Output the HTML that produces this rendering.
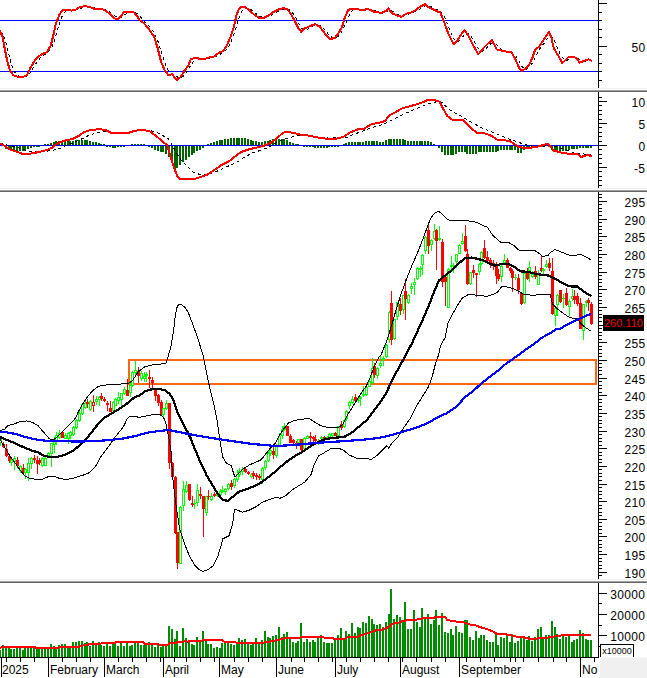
<!DOCTYPE html><html><head><meta charset="utf-8"><title>chart</title><style>
html,body{margin:0;padding:0;background:#fff;}body{width:647px;height:678px;overflow:hidden;font-family:"Liberation Sans",sans-serif;}
svg{display:block}text{font-family:"Liberation Sans",sans-serif;font-size:12px;fill:#000}
</style></head><body>
<svg width="647" height="678" viewBox="0 0 647 678">
<rect width="647" height="678" fill="#fff"/>
<rect x="0" y="88" width="647" height="1" fill="#f0f0f0"/>
<rect x="0" y="90" width="647" height="1" fill="#a0a0a0"/>
<rect x="0" y="91" width="647" height="1" fill="#646464"/>
<rect x="0" y="188" width="647" height="1" fill="#f0f0f0"/>
<rect x="0" y="190" width="647" height="1" fill="#a0a0a0"/>
<rect x="0" y="191" width="647" height="1" fill="#646464"/>
<rect x="0" y="579" width="647" height="1" fill="#f0f0f0"/>
<rect x="0" y="581" width="647" height="1" fill="#a0a0a0"/>
<rect x="0" y="582" width="647" height="1" fill="#646464"/>
<g shape-rendering="crispEdges" fill="#000">
<rect x="598" y="0" width="1" height="88"/>
<rect x="598" y="92" width="1" height="96"/>
<rect x="598" y="192" width="1" height="387"/>
<rect x="598" y="583" width="1" height="75"/>
<rect x="599" y="3" width="8" height="1"/>
<rect x="599" y="12" width="3" height="1"/>
<rect x="599" y="20" width="3" height="1"/>
<rect x="599" y="29" width="3" height="1"/>
<rect x="599" y="37" width="3" height="1"/>
<rect x="599" y="46" width="8" height="1"/>
<rect x="599" y="54" width="3" height="1"/>
<rect x="599" y="63" width="3" height="1"/>
<rect x="599" y="71" width="3" height="1"/>
<rect x="599" y="80" width="3" height="1"/>
<rect x="599" y="185" width="3" height="1"/>
<rect x="599" y="180" width="3" height="1"/>
<rect x="599" y="176" width="3" height="1"/>
<rect x="599" y="171" width="3" height="1"/>
<rect x="599" y="167" width="8" height="1"/>
<rect x="599" y="163" width="3" height="1"/>
<rect x="599" y="158" width="3" height="1"/>
<rect x="599" y="154" width="3" height="1"/>
<rect x="599" y="149" width="3" height="1"/>
<rect x="599" y="145" width="8" height="1"/>
<rect x="599" y="141" width="3" height="1"/>
<rect x="599" y="136" width="3" height="1"/>
<rect x="599" y="132" width="3" height="1"/>
<rect x="599" y="127" width="3" height="1"/>
<rect x="599" y="123" width="8" height="1"/>
<rect x="599" y="119" width="3" height="1"/>
<rect x="599" y="114" width="3" height="1"/>
<rect x="599" y="110" width="3" height="1"/>
<rect x="599" y="105" width="3" height="1"/>
<rect x="599" y="101" width="8" height="1"/>
<rect x="599" y="97" width="3" height="1"/>
<rect x="599" y="575" width="3" height="1"/>
<rect x="599" y="572" width="8" height="1"/>
<rect x="599" y="568" width="3" height="1"/>
<rect x="599" y="565" width="3" height="1"/>
<rect x="599" y="561" width="3" height="1"/>
<rect x="599" y="558" width="3" height="1"/>
<rect x="599" y="554" width="8" height="1"/>
<rect x="599" y="551" width="3" height="1"/>
<rect x="599" y="547" width="3" height="1"/>
<rect x="599" y="544" width="3" height="1"/>
<rect x="599" y="540" width="3" height="1"/>
<rect x="599" y="536" width="8" height="1"/>
<rect x="599" y="533" width="3" height="1"/>
<rect x="599" y="529" width="3" height="1"/>
<rect x="599" y="526" width="3" height="1"/>
<rect x="599" y="522" width="3" height="1"/>
<rect x="599" y="519" width="8" height="1"/>
<rect x="599" y="515" width="3" height="1"/>
<rect x="599" y="512" width="3" height="1"/>
<rect x="599" y="508" width="3" height="1"/>
<rect x="599" y="505" width="3" height="1"/>
<rect x="599" y="501" width="8" height="1"/>
<rect x="599" y="498" width="3" height="1"/>
<rect x="599" y="494" width="3" height="1"/>
<rect x="599" y="491" width="3" height="1"/>
<rect x="599" y="487" width="3" height="1"/>
<rect x="599" y="484" width="8" height="1"/>
<rect x="599" y="480" width="3" height="1"/>
<rect x="599" y="476" width="3" height="1"/>
<rect x="599" y="473" width="3" height="1"/>
<rect x="599" y="469" width="3" height="1"/>
<rect x="599" y="466" width="8" height="1"/>
<rect x="599" y="462" width="3" height="1"/>
<rect x="599" y="459" width="3" height="1"/>
<rect x="599" y="455" width="3" height="1"/>
<rect x="599" y="452" width="3" height="1"/>
<rect x="599" y="448" width="8" height="1"/>
<rect x="599" y="445" width="3" height="1"/>
<rect x="599" y="441" width="3" height="1"/>
<rect x="599" y="438" width="3" height="1"/>
<rect x="599" y="434" width="3" height="1"/>
<rect x="599" y="431" width="8" height="1"/>
<rect x="599" y="427" width="3" height="1"/>
<rect x="599" y="423" width="3" height="1"/>
<rect x="599" y="420" width="3" height="1"/>
<rect x="599" y="416" width="3" height="1"/>
<rect x="599" y="413" width="8" height="1"/>
<rect x="599" y="409" width="3" height="1"/>
<rect x="599" y="406" width="3" height="1"/>
<rect x="599" y="402" width="3" height="1"/>
<rect x="599" y="399" width="3" height="1"/>
<rect x="599" y="395" width="8" height="1"/>
<rect x="599" y="392" width="3" height="1"/>
<rect x="599" y="388" width="3" height="1"/>
<rect x="599" y="385" width="3" height="1"/>
<rect x="599" y="381" width="3" height="1"/>
<rect x="599" y="378" width="8" height="1"/>
<rect x="599" y="374" width="3" height="1"/>
<rect x="599" y="370" width="3" height="1"/>
<rect x="599" y="367" width="3" height="1"/>
<rect x="599" y="363" width="3" height="1"/>
<rect x="599" y="360" width="8" height="1"/>
<rect x="599" y="356" width="3" height="1"/>
<rect x="599" y="353" width="3" height="1"/>
<rect x="599" y="349" width="3" height="1"/>
<rect x="599" y="346" width="3" height="1"/>
<rect x="599" y="342" width="8" height="1"/>
<rect x="599" y="339" width="3" height="1"/>
<rect x="599" y="335" width="3" height="1"/>
<rect x="599" y="332" width="3" height="1"/>
<rect x="599" y="328" width="3" height="1"/>
<rect x="599" y="325" width="8" height="1"/>
<rect x="599" y="321" width="3" height="1"/>
<rect x="599" y="317" width="3" height="1"/>
<rect x="599" y="314" width="3" height="1"/>
<rect x="599" y="310" width="3" height="1"/>
<rect x="599" y="307" width="8" height="1"/>
<rect x="599" y="303" width="3" height="1"/>
<rect x="599" y="300" width="3" height="1"/>
<rect x="599" y="296" width="3" height="1"/>
<rect x="599" y="293" width="3" height="1"/>
<rect x="599" y="289" width="8" height="1"/>
<rect x="599" y="286" width="3" height="1"/>
<rect x="599" y="282" width="3" height="1"/>
<rect x="599" y="279" width="3" height="1"/>
<rect x="599" y="275" width="3" height="1"/>
<rect x="599" y="272" width="8" height="1"/>
<rect x="599" y="268" width="3" height="1"/>
<rect x="599" y="264" width="3" height="1"/>
<rect x="599" y="261" width="3" height="1"/>
<rect x="599" y="257" width="3" height="1"/>
<rect x="599" y="254" width="8" height="1"/>
<rect x="599" y="250" width="3" height="1"/>
<rect x="599" y="247" width="3" height="1"/>
<rect x="599" y="243" width="3" height="1"/>
<rect x="599" y="240" width="3" height="1"/>
<rect x="599" y="236" width="8" height="1"/>
<rect x="599" y="233" width="3" height="1"/>
<rect x="599" y="229" width="3" height="1"/>
<rect x="599" y="226" width="3" height="1"/>
<rect x="599" y="222" width="3" height="1"/>
<rect x="599" y="219" width="8" height="1"/>
<rect x="599" y="215" width="3" height="1"/>
<rect x="599" y="211" width="3" height="1"/>
<rect x="599" y="208" width="3" height="1"/>
<rect x="599" y="204" width="3" height="1"/>
<rect x="599" y="201" width="8" height="1"/>
<rect x="599" y="197" width="3" height="1"/>
<rect x="599" y="194" width="3" height="1"/>
<rect x="599" y="646" width="3" height="1"/>
<rect x="599" y="635" width="8" height="1"/>
<rect x="599" y="625" width="3" height="1"/>
<rect x="599" y="614" width="8" height="1"/>
<rect x="599" y="603" width="3" height="1"/>
<rect x="599" y="593" width="8" height="1"/>
<rect x="0" y="657" width="599" height="1"/>
<rect x="1" y="657" width="1" height="20"/>
<rect x="48" y="657" width="1" height="20"/>
<rect x="104" y="657" width="1" height="20"/>
<rect x="163" y="657" width="1" height="20"/>
<rect x="219" y="657" width="1" height="20"/>
<rect x="276" y="657" width="1" height="20"/>
<rect x="335" y="657" width="1" height="20"/>
<rect x="400" y="657" width="1" height="20"/>
<rect x="459" y="657" width="1" height="20"/>
<rect x="580" y="657" width="1" height="20"/>
<rect x="6" y="657" width="1" height="5"/>
<rect x="20" y="657" width="1" height="5"/>
<rect x="34" y="657" width="1" height="5"/>
<rect x="62" y="657" width="1" height="5"/>
<rect x="76" y="657" width="1" height="5"/>
<rect x="90" y="657" width="1" height="5"/>
<rect x="118" y="657" width="1" height="5"/>
<rect x="132" y="657" width="1" height="5"/>
<rect x="146" y="657" width="1" height="5"/>
<rect x="160" y="657" width="1" height="5"/>
<rect x="174" y="657" width="1" height="5"/>
<rect x="186" y="657" width="1" height="5"/>
<rect x="200" y="657" width="1" height="5"/>
<rect x="214" y="657" width="1" height="5"/>
<rect x="234" y="657" width="1" height="5"/>
<rect x="248" y="657" width="1" height="5"/>
<rect x="262" y="657" width="1" height="5"/>
<rect x="291" y="657" width="1" height="5"/>
<rect x="304" y="657" width="1" height="5"/>
<rect x="318" y="657" width="1" height="5"/>
<rect x="332" y="657" width="1" height="5"/>
<rect x="346" y="657" width="1" height="5"/>
<rect x="360" y="657" width="1" height="5"/>
<rect x="374" y="657" width="1" height="5"/>
<rect x="388" y="657" width="1" height="5"/>
<rect x="402" y="657" width="1" height="5"/>
<rect x="416" y="657" width="1" height="5"/>
<rect x="431" y="657" width="1" height="5"/>
<rect x="445" y="657" width="1" height="5"/>
<rect x="466" y="657" width="1" height="5"/>
<rect x="480" y="657" width="1" height="5"/>
<rect x="494" y="657" width="1" height="5"/>
<rect x="510" y="657" width="1" height="5"/>
<rect x="515" y="657" width="1" height="5"/>
<rect x="523" y="657" width="1" height="5"/>
<rect x="538" y="657" width="1" height="5"/>
<rect x="553" y="657" width="1" height="5"/>
<rect x="566" y="657" width="1" height="5"/>
<rect x="594" y="657" width="1" height="5"/>
</g>
<text x="645.4" y="52" text-anchor="end" letter-spacing="0.33">50</text>
<text x="645.4" y="107" text-anchor="end" letter-spacing="0.33">10</text>
<text x="645.4" y="129" text-anchor="end" letter-spacing="0.33">5</text>
<text x="645.4" y="151" text-anchor="end" letter-spacing="0.33">0</text>
<text x="645.4" y="173" text-anchor="end" letter-spacing="0.33">-5</text>
<text x="645.4" y="578" text-anchor="end" letter-spacing="0.33">190</text>
<text x="645.4" y="560" text-anchor="end" letter-spacing="0.33">195</text>
<text x="645.4" y="542" text-anchor="end" letter-spacing="0.33">200</text>
<text x="645.4" y="525" text-anchor="end" letter-spacing="0.33">205</text>
<text x="645.4" y="507" text-anchor="end" letter-spacing="0.33">210</text>
<text x="645.4" y="490" text-anchor="end" letter-spacing="0.33">215</text>
<text x="645.4" y="472" text-anchor="end" letter-spacing="0.33">220</text>
<text x="645.4" y="454" text-anchor="end" letter-spacing="0.33">225</text>
<text x="645.4" y="437" text-anchor="end" letter-spacing="0.33">230</text>
<text x="645.4" y="419" text-anchor="end" letter-spacing="0.33">235</text>
<text x="645.4" y="401" text-anchor="end" letter-spacing="0.33">240</text>
<text x="645.4" y="384" text-anchor="end" letter-spacing="0.33">245</text>
<text x="645.4" y="366" text-anchor="end" letter-spacing="0.33">250</text>
<text x="645.4" y="348" text-anchor="end" letter-spacing="0.33">255</text>
<text x="645.4" y="313" text-anchor="end" letter-spacing="0.33">265</text>
<text x="645.4" y="295" text-anchor="end" letter-spacing="0.33">270</text>
<text x="645.4" y="278" text-anchor="end" letter-spacing="0.33">275</text>
<text x="645.4" y="260" text-anchor="end" letter-spacing="0.33">280</text>
<text x="645.4" y="242" text-anchor="end" letter-spacing="0.33">285</text>
<text x="645.4" y="225" text-anchor="end" letter-spacing="0.33">290</text>
<text x="645.4" y="207" text-anchor="end" letter-spacing="0.33">295</text>
<text x="645.4" y="641" text-anchor="end" letter-spacing="0.33">10000</text>
<text x="645.4" y="620" text-anchor="end" letter-spacing="0.33">20000</text>
<text x="645.4" y="599" text-anchor="end" letter-spacing="0.33">30000</text>
<text x="2" y="674">2025</text>
<text x="50" y="674">February</text>
<text x="106" y="674">March</text>
<text x="165" y="674">April</text>
<text x="221" y="674">May</text>
<text x="278" y="674">June</text>
<text x="337" y="674">July</text>
<text x="402" y="674">August</text>
<text x="461" y="674" letter-spacing="0.17">September</text>
<text x="582" y="674">No</text>
<rect x="600.5" y="644.5" width="33" height="16" fill="#fff" stroke="#000" stroke-width="1"/>
<text x="602.2" y="653.6" style="font-size:9px">x10000</text>
<rect x="600" y="657" width="47" height="1" fill="#fafafa"/>
<rect x="600" y="658" width="47" height="20" fill="#f0f0f0"/>
<rect x="603" y="315" width="41" height="16" fill="#000"/>
<text x="604.0" y="327" style="font-size:11px;fill:#f40000">260.110</text>
<g shape-rendering="crispEdges">
<rect x="0" y="20" width="598" height="1" fill="#0000ff"/>
<rect x="0" y="71" width="598" height="1" fill="#0000ff"/>
</g>
<polyline shape-rendering="crispEdges" points="0.6,31.4 3.4,34.9 6.2,43.3 9.0,55.0 11.8,65.4 14.6,72.1 17.5,75.2 20.3,76.4 23.1,76.8 25.9,76.4 28.7,74.6 31.5,70.9 34.3,66.2 37.2,61.6 40.0,58.2 42.8,55.7 45.6,54.0 48.4,52.0 51.2,48.6 54.1,41.7 56.9,32.3 59.7,22.5 62.5,15.3 65.3,11.6 68.1,10.2 70.9,10.2 73.8,10.3 76.6,9.9 79.4,8.9 82.2,7.7 85.0,6.8 87.8,6.5 90.7,6.7 93.5,7.5 96.3,8.2 99.1,8.6 101.9,8.8 104.7,9.3 107.5,10.5 110.4,12.3 113.2,14.5 116.0,16.6 118.8,17.9 121.6,17.4 124.4,15.2 127.3,13.0 130.1,11.7 132.9,11.7 135.7,12.6 138.5,14.9 141.3,18.0 144.1,21.1 147.0,23.9 149.8,27.0 152.6,30.6 155.4,35.3 158.2,41.9 161.0,50.9 163.9,60.0 166.7,67.6 169.5,72.1 172.3,74.1 175.1,75.8 177.9,77.2 180.7,78.1 183.6,76.1 186.4,72.4 189.2,67.9 192.0,63.4 194.8,60.1 197.6,58.5 200.4,58.4 203.3,58.6 206.1,58.6 208.9,58.2 211.7,57.6 214.5,56.9 217.3,55.8 220.2,54.2 223.0,52.5 225.8,50.1 228.6,46.5 231.4,40.8 234.2,33.6 237.0,24.3 239.9,15.6 242.7,9.5 245.5,7.6 248.3,8.1 251.1,9.7 253.9,11.9 256.8,14.2 259.6,16.2 262.4,17.3 265.2,17.5 268.0,16.8 270.8,15.5 273.6,13.8 276.5,12.1 279.3,10.5 282.1,9.4 284.9,8.8 287.7,9.1 290.5,10.6 293.4,13.9 296.2,18.5 299.0,23.8 301.8,28.2 304.6,29.8 307.4,29.2 310.2,27.3 313.1,26.0 315.9,25.1 318.7,25.2 321.5,26.5 324.3,29.3 327.1,32.7 330.0,35.9 332.8,37.8 335.6,38.1 338.4,36.2 341.2,32.9 344.0,27.3 346.8,20.6 349.7,14.2 352.5,10.4 355.3,8.9 358.1,8.8 360.9,9.3 363.7,9.7 366.6,9.8 369.4,9.6 372.2,9.9 375.0,10.8 377.8,11.8 380.6,12.4 383.4,12.4 386.3,11.8 389.1,10.5 391.9,10.9 394.7,12.2 397.5,14.4 400.3,15.5 403.2,15.9 406.0,15.3 408.8,14.2 411.6,13.0 414.4,12.0 417.2,10.7 420.0,8.8 422.9,7.0 425.7,5.6 428.5,5.8 431.3,6.9 434.1,8.5 436.9,9.8 439.7,10.9 442.6,13.7 445.4,18.6 448.2,25.7 451.0,32.6 453.8,38.7 456.6,41.4 459.5,40.8 462.3,37.2 465.1,33.8 467.9,33.1 470.7,35.5 473.5,40.5 476.3,45.8 479.2,50.1 482.0,51.4 484.8,50.0 487.6,46.8 490.4,44.0 493.2,42.7 496.1,44.1 498.9,46.9 501.7,49.5 504.5,50.6 507.3,51.2 510.1,51.7 512.9,52.9 515.8,55.7 518.6,60.6 521.4,65.9 524.2,69.0 527.0,69.1 529.8,66.7 532.7,62.6 535.5,56.6 538.3,51.2 541.1,46.8 543.9,43.6 546.7,39.5 549.5,36.1 552.4,37.0 555.2,42.1 558.0,49.3 560.8,55.4 563.6,59.1 566.4,60.4 569.3,59.3 572.1,57.7 574.9,57.2 577.7,58.1 580.5,59.8 583.3,61.0 586.1,61.2 589.0,60.3 591.8,60.1" fill="none" stroke="#000" stroke-width="1" stroke-dasharray="3,3"/>
<polyline shape-rendering="crispEdges" points="0.0,30.9 2.5,37.1 4.9,49.5 7.4,61.8 9.9,70.5 13.6,75.4 17.3,76.7 23.5,76.9 27.2,74.7 30.9,66.8 35.9,58.9 39.6,55.6 43.3,53.7 47.0,51.9 50.7,45.7 53.2,35.9 55.6,24.7 59.3,14.8 62.3,10.4 66.8,9.9 71.7,10.6 75.4,9.9 79.1,7.4 84.1,6.2 89.0,6.7 94.0,8.7 101.4,8.7 106.3,11.1 111.3,15.3 115.0,18.5 118.7,18.5 121.2,16.1 123.6,11.9 128.6,11.6 133.5,11.9 137.2,16.1 139.7,20.3 143.4,22.7 148.4,28.4 150.0,30.9 153.7,35.9 157.4,47.0 161.1,61.8 164.8,70.5 168.5,75.4 172.3,74.2 174.7,77.9 177.2,79.9 180.9,76.7 184.6,70.5 188.3,65.5 190.8,59.3 194.5,58.1 199.5,58.6 204.4,58.9 209.3,57.4 214.3,56.4 219.2,52.7 222.9,51.2 226.7,45.7 230.4,37.1 234.1,26.0 236.5,14.8 239.0,8.7 241.5,6.9 245.2,7.4 248.9,9.9 253.9,14.3 258.8,17.8 263.7,17.8 268.7,15.3 273.6,11.9 278.6,9.4 283.5,8.2 287.2,9.4 290.9,13.6 294.7,21.0 298.4,28.4 301.3,32.1 304.9,28.4 309.9,26.0 315.3,24.2 319.8,26.7 324.7,33.4 329.7,38.8 334.6,38.3 338.3,33.4 342.0,27.2 344.5,18.5 348.2,9.9 351.9,8.7 356.9,8.7 361.8,10.4 368.0,8.9 374.2,11.9 381.6,12.9 386.5,10.4 388.5,8.2 391.5,12.9 396.4,15.3 401.4,16.8 406.3,13.6 411.3,12.4 416.2,9.9 419.9,6.7 424.9,4.2 428.6,7.4 433.5,9.4 438.5,11.9 440.0,11.9 443.7,21.0 448.7,34.6 453.6,44.0 457.3,40.8 461.0,34.6 464.7,30.4 468.4,35.9 473.4,45.7 478.3,54.4 483.3,48.2 488.2,43.3 491.9,40.3 496.9,49.5 504.3,51.2 511.7,52.4 515.4,59.3 519.1,68.0 521.6,71.0 525.3,68.7 529.0,65.5 532.7,56.9 535.2,49.5 538.9,47.0 543.9,39.6 548.8,32.1 551.3,37.1 553.7,48.2 557.5,54.4 562.4,63.1 564.9,60.6 568.6,56.9 574.8,57.4 577.2,58.9 579.7,62.6 584.7,60.6 588.4,59.3 591.3,60.6" fill="none" stroke="#ff0000" stroke-width="2" stroke-linejoin="round" stroke-linecap="round"/>
<g shape-rendering="crispEdges">
<rect x="0" y="145" width="598" height="1" fill="#0000ff"/>
<rect x="-1" y="144" width="2" height="1" fill="#006400"/>
<rect x="5" y="146" width="2" height="3" fill="#006400"/>
<rect x="8" y="146" width="2" height="4" fill="#006400"/>
<rect x="10" y="146" width="2" height="5" fill="#006400"/>
<rect x="13" y="146" width="2" height="5" fill="#006400"/>
<rect x="16" y="146" width="2" height="5" fill="#006400"/>
<rect x="19" y="146" width="2" height="5" fill="#006400"/>
<rect x="22" y="146" width="2" height="5" fill="#006400"/>
<rect x="24" y="146" width="2" height="5" fill="#006400"/>
<rect x="27" y="146" width="2" height="3" fill="#006400"/>
<rect x="30" y="146" width="2" height="2" fill="#006400"/>
<rect x="33" y="146" width="2" height="1" fill="#006400"/>
<rect x="36" y="146" width="2" height="1" fill="#006400"/>
<rect x="38" y="146" width="2" height="1" fill="#006400"/>
<rect x="44" y="144" width="2" height="1" fill="#006400"/>
<rect x="47" y="144" width="2" height="1" fill="#006400"/>
<rect x="50" y="143" width="2" height="2" fill="#006400"/>
<rect x="53" y="142" width="2" height="3" fill="#006400"/>
<rect x="55" y="141" width="2" height="4" fill="#006400"/>
<rect x="58" y="141" width="2" height="4" fill="#006400"/>
<rect x="61" y="141" width="2" height="4" fill="#006400"/>
<rect x="64" y="141" width="2" height="4" fill="#006400"/>
<rect x="67" y="141" width="2" height="4" fill="#006400"/>
<rect x="69" y="141" width="2" height="4" fill="#006400"/>
<rect x="72" y="141" width="2" height="4" fill="#006400"/>
<rect x="75" y="140" width="2" height="5" fill="#006400"/>
<rect x="78" y="140" width="2" height="5" fill="#006400"/>
<rect x="81" y="140" width="2" height="5" fill="#006400"/>
<rect x="84" y="140" width="2" height="5" fill="#006400"/>
<rect x="86" y="140" width="2" height="5" fill="#006400"/>
<rect x="89" y="141" width="2" height="4" fill="#006400"/>
<rect x="92" y="142" width="2" height="3" fill="#006400"/>
<rect x="95" y="142" width="2" height="3" fill="#006400"/>
<rect x="98" y="143" width="2" height="2" fill="#006400"/>
<rect x="100" y="144" width="2" height="1" fill="#006400"/>
<rect x="103" y="144" width="2" height="1" fill="#006400"/>
<rect x="106" y="146" width="2" height="1" fill="#006400"/>
<rect x="109" y="146" width="2" height="1" fill="#006400"/>
<rect x="112" y="146" width="2" height="2" fill="#006400"/>
<rect x="114" y="146" width="2" height="2" fill="#006400"/>
<rect x="117" y="146" width="2" height="1" fill="#006400"/>
<rect x="120" y="146" width="2" height="1" fill="#006400"/>
<rect x="123" y="146" width="2" height="1" fill="#006400"/>
<rect x="131" y="144" width="2" height="1" fill="#006400"/>
<rect x="134" y="144" width="2" height="1" fill="#006400"/>
<rect x="137" y="144" width="2" height="1" fill="#006400"/>
<rect x="140" y="144" width="2" height="1" fill="#006400"/>
<rect x="143" y="144" width="2" height="1" fill="#006400"/>
<rect x="148" y="146" width="2" height="1" fill="#006400"/>
<rect x="151" y="146" width="2" height="2" fill="#006400"/>
<rect x="154" y="146" width="2" height="4" fill="#006400"/>
<rect x="157" y="146" width="2" height="5" fill="#006400"/>
<rect x="160" y="146" width="2" height="6" fill="#006400"/>
<rect x="162" y="146" width="2" height="6" fill="#006400"/>
<rect x="165" y="146" width="2" height="8" fill="#006400"/>
<rect x="168" y="146" width="2" height="11" fill="#006400"/>
<rect x="171" y="146" width="2" height="17" fill="#006400"/>
<rect x="174" y="146" width="2" height="23" fill="#006400"/>
<rect x="176" y="146" width="2" height="22" fill="#006400"/>
<rect x="179" y="146" width="2" height="19" fill="#006400"/>
<rect x="182" y="146" width="2" height="16" fill="#006400"/>
<rect x="185" y="146" width="2" height="14" fill="#006400"/>
<rect x="188" y="146" width="2" height="11" fill="#006400"/>
<rect x="191" y="146" width="2" height="9" fill="#006400"/>
<rect x="193" y="146" width="2" height="7" fill="#006400"/>
<rect x="196" y="146" width="2" height="5" fill="#006400"/>
<rect x="199" y="146" width="2" height="4" fill="#006400"/>
<rect x="202" y="146" width="2" height="2" fill="#006400"/>
<rect x="207" y="144" width="2" height="1" fill="#006400"/>
<rect x="210" y="143" width="2" height="2" fill="#006400"/>
<rect x="213" y="142" width="2" height="3" fill="#006400"/>
<rect x="216" y="141" width="2" height="4" fill="#006400"/>
<rect x="219" y="140" width="2" height="5" fill="#006400"/>
<rect x="221" y="140" width="2" height="5" fill="#006400"/>
<rect x="224" y="139" width="2" height="6" fill="#006400"/>
<rect x="227" y="139" width="2" height="6" fill="#006400"/>
<rect x="230" y="138" width="2" height="7" fill="#006400"/>
<rect x="233" y="138" width="2" height="7" fill="#006400"/>
<rect x="236" y="138" width="2" height="7" fill="#006400"/>
<rect x="238" y="138" width="2" height="7" fill="#006400"/>
<rect x="241" y="138" width="2" height="7" fill="#006400"/>
<rect x="244" y="138" width="2" height="7" fill="#006400"/>
<rect x="247" y="139" width="2" height="6" fill="#006400"/>
<rect x="250" y="140" width="2" height="5" fill="#006400"/>
<rect x="252" y="141" width="2" height="4" fill="#006400"/>
<rect x="255" y="141" width="2" height="4" fill="#006400"/>
<rect x="258" y="142" width="2" height="3" fill="#006400"/>
<rect x="261" y="142" width="2" height="3" fill="#006400"/>
<rect x="264" y="141" width="2" height="4" fill="#006400"/>
<rect x="267" y="141" width="2" height="4" fill="#006400"/>
<rect x="269" y="140" width="2" height="5" fill="#006400"/>
<rect x="272" y="139" width="2" height="6" fill="#006400"/>
<rect x="275" y="139" width="2" height="6" fill="#006400"/>
<rect x="278" y="139" width="2" height="6" fill="#006400"/>
<rect x="281" y="139" width="2" height="6" fill="#006400"/>
<rect x="283" y="139" width="2" height="6" fill="#006400"/>
<rect x="286" y="140" width="2" height="5" fill="#006400"/>
<rect x="289" y="142" width="2" height="3" fill="#006400"/>
<rect x="292" y="143" width="2" height="2" fill="#006400"/>
<rect x="295" y="144" width="2" height="1" fill="#006400"/>
<rect x="297" y="144" width="2" height="1" fill="#006400"/>
<rect x="303" y="146" width="2" height="1" fill="#006400"/>
<rect x="306" y="146" width="2" height="1" fill="#006400"/>
<rect x="309" y="146" width="2" height="1" fill="#006400"/>
<rect x="312" y="146" width="2" height="1" fill="#006400"/>
<rect x="314" y="146" width="2" height="2" fill="#006400"/>
<rect x="317" y="146" width="2" height="2" fill="#006400"/>
<rect x="320" y="146" width="2" height="2" fill="#006400"/>
<rect x="323" y="146" width="2" height="2" fill="#006400"/>
<rect x="326" y="146" width="2" height="2" fill="#006400"/>
<rect x="328" y="146" width="2" height="1" fill="#006400"/>
<rect x="331" y="146" width="2" height="1" fill="#006400"/>
<rect x="334" y="146" width="2" height="1" fill="#006400"/>
<rect x="337" y="146" width="2" height="1" fill="#006400"/>
<rect x="343" y="144" width="2" height="1" fill="#006400"/>
<rect x="345" y="143" width="2" height="2" fill="#006400"/>
<rect x="348" y="142" width="2" height="3" fill="#006400"/>
<rect x="351" y="142" width="2" height="3" fill="#006400"/>
<rect x="354" y="142" width="2" height="3" fill="#006400"/>
<rect x="357" y="142" width="2" height="3" fill="#006400"/>
<rect x="359" y="142" width="2" height="3" fill="#006400"/>
<rect x="362" y="142" width="2" height="3" fill="#006400"/>
<rect x="365" y="141" width="2" height="4" fill="#006400"/>
<rect x="368" y="141" width="2" height="4" fill="#006400"/>
<rect x="371" y="141" width="2" height="4" fill="#006400"/>
<rect x="373" y="141" width="2" height="4" fill="#006400"/>
<rect x="376" y="141" width="2" height="4" fill="#006400"/>
<rect x="379" y="142" width="2" height="3" fill="#006400"/>
<rect x="382" y="142" width="2" height="3" fill="#006400"/>
<rect x="385" y="140" width="2" height="5" fill="#006400"/>
<rect x="388" y="139" width="2" height="6" fill="#006400"/>
<rect x="390" y="139" width="2" height="6" fill="#006400"/>
<rect x="393" y="139" width="2" height="6" fill="#006400"/>
<rect x="396" y="139" width="2" height="6" fill="#006400"/>
<rect x="399" y="139" width="2" height="6" fill="#006400"/>
<rect x="402" y="139" width="2" height="6" fill="#006400"/>
<rect x="404" y="140" width="2" height="5" fill="#006400"/>
<rect x="407" y="141" width="2" height="4" fill="#006400"/>
<rect x="410" y="141" width="2" height="4" fill="#006400"/>
<rect x="413" y="141" width="2" height="4" fill="#006400"/>
<rect x="416" y="141" width="2" height="4" fill="#006400"/>
<rect x="419" y="141" width="2" height="4" fill="#006400"/>
<rect x="421" y="141" width="2" height="4" fill="#006400"/>
<rect x="424" y="141" width="2" height="4" fill="#006400"/>
<rect x="427" y="141" width="2" height="4" fill="#006400"/>
<rect x="430" y="142" width="2" height="3" fill="#006400"/>
<rect x="433" y="144" width="2" height="1" fill="#006400"/>
<rect x="438" y="146" width="2" height="2" fill="#006400"/>
<rect x="441" y="146" width="2" height="6" fill="#006400"/>
<rect x="444" y="146" width="2" height="9" fill="#006400"/>
<rect x="447" y="146" width="2" height="9" fill="#006400"/>
<rect x="450" y="146" width="2" height="9" fill="#006400"/>
<rect x="452" y="146" width="2" height="9" fill="#006400"/>
<rect x="455" y="146" width="2" height="8" fill="#006400"/>
<rect x="458" y="146" width="2" height="6" fill="#006400"/>
<rect x="461" y="146" width="2" height="6" fill="#006400"/>
<rect x="464" y="146" width="2" height="6" fill="#006400"/>
<rect x="466" y="146" width="2" height="8" fill="#006400"/>
<rect x="469" y="146" width="2" height="8" fill="#006400"/>
<rect x="472" y="146" width="2" height="8" fill="#006400"/>
<rect x="475" y="146" width="2" height="8" fill="#006400"/>
<rect x="478" y="146" width="2" height="6" fill="#006400"/>
<rect x="480" y="146" width="2" height="6" fill="#006400"/>
<rect x="483" y="146" width="2" height="6" fill="#006400"/>
<rect x="486" y="146" width="2" height="6" fill="#006400"/>
<rect x="489" y="146" width="2" height="6" fill="#006400"/>
<rect x="492" y="146" width="2" height="6" fill="#006400"/>
<rect x="495" y="146" width="2" height="6" fill="#006400"/>
<rect x="497" y="146" width="2" height="5" fill="#006400"/>
<rect x="500" y="146" width="2" height="4" fill="#006400"/>
<rect x="503" y="146" width="2" height="4" fill="#006400"/>
<rect x="506" y="146" width="2" height="4" fill="#006400"/>
<rect x="509" y="146" width="2" height="4" fill="#006400"/>
<rect x="511" y="146" width="2" height="4" fill="#006400"/>
<rect x="514" y="146" width="2" height="4" fill="#006400"/>
<rect x="517" y="146" width="2" height="7" fill="#006400"/>
<rect x="520" y="146" width="2" height="7" fill="#006400"/>
<rect x="523" y="146" width="2" height="4" fill="#006400"/>
<rect x="526" y="146" width="2" height="3" fill="#006400"/>
<rect x="528" y="146" width="2" height="2" fill="#006400"/>
<rect x="531" y="146" width="2" height="1" fill="#006400"/>
<rect x="534" y="146" width="2" height="1" fill="#006400"/>
<rect x="537" y="146" width="2" height="1" fill="#006400"/>
<rect x="540" y="146" width="2" height="1" fill="#006400"/>
<rect x="542" y="146" width="2" height="1" fill="#006400"/>
<rect x="545" y="144" width="2" height="1" fill="#006400"/>
<rect x="548" y="146" width="2" height="1" fill="#006400"/>
<rect x="551" y="146" width="2" height="4" fill="#006400"/>
<rect x="554" y="146" width="2" height="4" fill="#006400"/>
<rect x="556" y="146" width="2" height="4" fill="#006400"/>
<rect x="559" y="146" width="2" height="5" fill="#006400"/>
<rect x="562" y="146" width="2" height="5" fill="#006400"/>
<rect x="565" y="146" width="2" height="5" fill="#006400"/>
<rect x="568" y="146" width="2" height="4" fill="#006400"/>
<rect x="571" y="146" width="2" height="3" fill="#006400"/>
<rect x="573" y="146" width="2" height="3" fill="#006400"/>
<rect x="576" y="146" width="2" height="3" fill="#006400"/>
<rect x="579" y="146" width="2" height="2" fill="#006400"/>
<rect x="582" y="146" width="2" height="2" fill="#006400"/>
<rect x="585" y="146" width="2" height="2" fill="#006400"/>
<rect x="587" y="146" width="2" height="2" fill="#006400"/>
<rect x="590" y="146" width="2" height="2" fill="#006400"/>
</g>
<polyline shape-rendering="crispEdges" points="0.0,143.4 7.4,145.0 14.8,146.6 22.3,149.2 29.7,151.2 37.1,152.2 44.5,151.6 51.9,150.5 59.3,148.6 66.8,145.4 74.2,142.5 81.6,139.0 89.0,135.3 96.4,132.8 103.9,131.6 111.3,132.1 118.7,132.3 126.1,132.3 133.5,131.6 140.9,130.8 148.4,130.3 150.0,130.3 157.4,132.8 163.6,136.0 168.5,139.0 172.3,145.2 176.0,152.6 180.9,160.0 187.1,166.2 193.3,172.4 199.5,174.3 206.9,174.8 214.3,172.4 221.7,169.2 229.1,165.7 236.5,162.5 244.0,157.5 251.4,153.3 258.8,150.9 266.2,148.4 272.4,145.2 278.6,141.5 284.8,139.0 290.9,137.3 298.4,135.8 305.8,135.8 309.9,136.5 319.8,137.3 329.7,138.2 339.6,137.7 347.0,137.3 354.4,134.0 361.8,131.6 369.2,128.6 376.7,126.1 384.1,124.1 391.5,120.4 398.9,116.7 406.3,113.0 413.7,109.8 421.2,106.8 428.6,103.6 436.0,101.9 442.2,102.4 447.4,108.1 454.8,113.0 462.3,116.7 469.7,121.2 477.1,125.4 484.5,129.1 491.9,132.1 499.3,135.3 506.8,138.2 514.2,140.7 521.6,143.4 525.3,144.7 535.0,146.5 545.0,146.0 551.3,145.2 558.7,147.6 566.1,150.1 573.5,152.6 581.0,153.8 588.4,154.3 591.3,155.1" fill="none" stroke="#000" stroke-width="1" stroke-dasharray="3,3"/>
<polyline shape-rendering="crispEdges" points="0.0,143.6 4.6,145.9 10.8,149.8 17.0,151.8 21.6,153.6 30.9,153.6 38.6,152.1 46.4,150.2 52.6,147.5 56.0,144.4 60.7,142.0 66.0,140.3 72.6,139.0 78.8,135.9 84.2,132.0 89.6,130.3 95.8,129.5 100.1,129.1 106.3,130.3 111.3,132.8 118.7,133.3 128.6,132.8 134.8,130.8 140.9,129.8 147.1,130.6 150.0,131.6 156.2,136.0 162.4,141.5 167.3,145.2 169.8,153.8 173.5,166.2 177.2,176.1 179.7,179.0 187.1,179.3 194.5,179.0 199.5,177.3 206.9,174.8 214.3,169.9 221.7,164.9 229.1,161.2 235.3,156.3 241.5,151.8 248.9,149.4 256.3,147.6 263.7,145.9 271.2,142.7 276.1,139.0 281.1,134.5 284.8,132.1 289.7,132.3 295.9,133.5 300.0,134.5 307.4,135.3 314.8,137.0 322.3,138.2 329.7,139.0 337.1,138.5 343.3,137.0 349.5,132.8 356.9,129.6 364.3,128.6 371.7,124.1 379.1,122.9 385.3,120.9 389.0,115.5 395.2,112.3 402.6,108.1 410.0,106.3 416.2,104.4 422.4,102.4 427.3,100.2 434.8,99.9 439.7,101.9 443.4,109.3 447.4,116.2 452.4,119.7 458.5,119.7 463.5,120.4 467.2,124.1 472.1,129.1 477.1,132.8 484.5,133.3 491.9,136.0 496.9,139.5 504.3,140.2 510.5,141.5 515.4,144.7 519.1,146.9 525.3,148.1 531.5,147.6 538.9,146.4 543.9,144.7 548.3,143.9 551.3,147.6 553.7,150.6 558.7,151.8 563.6,153.3 571.1,153.8 577.2,153.8 581.0,157.0 584.7,155.8 588.4,155.1 591.3,156.3" fill="none" stroke="#ff0000" stroke-width="2" stroke-linejoin="round" stroke-linecap="round"/>
<rect x="129" y="360" width="467" height="24" fill="none" stroke="#ff6610" stroke-width="2"/>
<g shape-rendering="crispEdges">
<rect x="0" y="439" width="1" height="7" fill="#00ff00"/>
<rect x="-1" y="439" width="3" height="4" fill="#00ff00"/>
<rect x="0" y="440" width="1" height="2" fill="#fff"/>
<rect x="3" y="442" width="1" height="6" fill="#ff0000"/>
<rect x="2" y="444" width="3" height="3" fill="#ff0000"/>
<rect x="6" y="444" width="1" height="13" fill="#ff0000"/>
<rect x="5" y="449" width="3" height="7" fill="#ff0000"/>
<rect x="9" y="456" width="1" height="7" fill="#ff0000"/>
<rect x="8" y="456" width="3" height="5" fill="#ff0000"/>
<rect x="11" y="458" width="1" height="8" fill="#00ff00"/>
<rect x="10" y="460" width="3" height="3" fill="#00ff00"/>
<rect x="11" y="461" width="1" height="1" fill="#fff"/>
<rect x="14" y="456" width="1" height="14" fill="#00ff00"/>
<rect x="13" y="458" width="3" height="4" fill="#00ff00"/>
<rect x="14" y="459" width="1" height="2" fill="#fff"/>
<rect x="17" y="457" width="1" height="11" fill="#ff0000"/>
<rect x="16" y="460" width="3" height="6" fill="#ff0000"/>
<rect x="20" y="465" width="1" height="8" fill="#00ff00"/>
<rect x="19" y="466" width="3" height="5" fill="#00ff00"/>
<rect x="20" y="467" width="1" height="3" fill="#fff"/>
<rect x="23" y="464" width="1" height="10" fill="#ff0000"/>
<rect x="22" y="468" width="3" height="5" fill="#ff0000"/>
<rect x="25" y="468" width="1" height="11" fill="#00ff00"/>
<rect x="24" y="469" width="3" height="4" fill="#00ff00"/>
<rect x="25" y="470" width="1" height="2" fill="#fff"/>
<rect x="28" y="458" width="1" height="23" fill="#00ff00"/>
<rect x="27" y="463" width="3" height="10" fill="#00ff00"/>
<rect x="28" y="464" width="1" height="8" fill="#fff"/>
<rect x="31" y="457" width="1" height="12" fill="#00ff00"/>
<rect x="30" y="458" width="3" height="6" fill="#00ff00"/>
<rect x="31" y="459" width="1" height="4" fill="#fff"/>
<rect x="34" y="455" width="1" height="8" fill="#ff0000"/>
<rect x="33" y="458" width="3" height="2" fill="#ff0000"/>
<rect x="37" y="456" width="1" height="18" fill="#ff0000"/>
<rect x="36" y="460" width="3" height="4" fill="#ff0000"/>
<rect x="39" y="458" width="1" height="7" fill="#ff0000"/>
<rect x="38" y="460" width="3" height="3" fill="#ff0000"/>
<rect x="42" y="457" width="1" height="10" fill="#00ff00"/>
<rect x="41" y="458" width="3" height="8" fill="#00ff00"/>
<rect x="42" y="459" width="1" height="6" fill="#fff"/>
<rect x="45" y="456" width="1" height="10" fill="#00ff00"/>
<rect x="44" y="458" width="3" height="8" fill="#00ff00"/>
<rect x="45" y="459" width="1" height="6" fill="#fff"/>
<rect x="48" y="452" width="1" height="5" fill="#00ff00"/>
<rect x="47" y="453" width="3" height="3" fill="#00ff00"/>
<rect x="48" y="454" width="1" height="1" fill="#fff"/>
<rect x="51" y="443" width="1" height="24" fill="#00ff00"/>
<rect x="50" y="443" width="3" height="11" fill="#00ff00"/>
<rect x="51" y="444" width="1" height="9" fill="#fff"/>
<rect x="54" y="437" width="1" height="16" fill="#00ff00"/>
<rect x="53" y="439" width="3" height="6" fill="#00ff00"/>
<rect x="54" y="440" width="1" height="4" fill="#fff"/>
<rect x="56" y="432" width="1" height="13" fill="#00ff00"/>
<rect x="55" y="435" width="3" height="6" fill="#00ff00"/>
<rect x="56" y="436" width="1" height="4" fill="#fff"/>
<rect x="59" y="430" width="1" height="9" fill="#00ff00"/>
<rect x="58" y="433" width="3" height="5" fill="#00ff00"/>
<rect x="59" y="434" width="1" height="3" fill="#fff"/>
<rect x="62" y="432" width="1" height="6" fill="#ff0000"/>
<rect x="61" y="432" width="3" height="6" fill="#ff0000"/>
<rect x="65" y="433" width="1" height="6" fill="#00ff00"/>
<rect x="64" y="435" width="3" height="4" fill="#00ff00"/>
<rect x="65" y="436" width="1" height="2" fill="#fff"/>
<rect x="68" y="432" width="1" height="12" fill="#00ff00"/>
<rect x="67" y="433" width="3" height="6" fill="#00ff00"/>
<rect x="68" y="434" width="1" height="4" fill="#fff"/>
<rect x="70" y="431" width="1" height="8" fill="#00ff00"/>
<rect x="69" y="432" width="3" height="4" fill="#00ff00"/>
<rect x="70" y="433" width="1" height="2" fill="#fff"/>
<rect x="73" y="426" width="1" height="10" fill="#00ff00"/>
<rect x="72" y="427" width="3" height="8" fill="#00ff00"/>
<rect x="73" y="428" width="1" height="6" fill="#fff"/>
<rect x="76" y="419" width="1" height="10" fill="#00ff00"/>
<rect x="75" y="420" width="3" height="8" fill="#00ff00"/>
<rect x="76" y="421" width="1" height="6" fill="#fff"/>
<rect x="79" y="410" width="1" height="12" fill="#00ff00"/>
<rect x="78" y="413" width="3" height="8" fill="#00ff00"/>
<rect x="79" y="414" width="1" height="6" fill="#fff"/>
<rect x="82" y="403" width="1" height="12" fill="#00ff00"/>
<rect x="81" y="404" width="3" height="10" fill="#00ff00"/>
<rect x="82" y="405" width="1" height="8" fill="#fff"/>
<rect x="85" y="399" width="1" height="10" fill="#00ff00"/>
<rect x="84" y="403" width="3" height="5" fill="#00ff00"/>
<rect x="85" y="404" width="1" height="3" fill="#fff"/>
<rect x="87" y="399" width="1" height="9" fill="#ff0000"/>
<rect x="86" y="402" width="3" height="2" fill="#ff0000"/>
<rect x="90" y="400" width="1" height="11" fill="#00ff00"/>
<rect x="89" y="401" width="3" height="9" fill="#00ff00"/>
<rect x="90" y="402" width="1" height="7" fill="#fff"/>
<rect x="93" y="395" width="1" height="17" fill="#ff0000"/>
<rect x="92" y="402" width="3" height="4" fill="#ff0000"/>
<rect x="93" y="403" width="1" height="2" fill="#fff"/>
<rect x="96" y="396" width="1" height="9" fill="#00ff00"/>
<rect x="95" y="399" width="3" height="3" fill="#00ff00"/>
<rect x="96" y="400" width="1" height="1" fill="#fff"/>
<rect x="99" y="396" width="1" height="10" fill="#00ff00"/>
<rect x="98" y="397" width="3" height="3" fill="#00ff00"/>
<rect x="99" y="398" width="1" height="1" fill="#fff"/>
<rect x="101" y="393" width="1" height="8" fill="#ff0000"/>
<rect x="100" y="396" width="3" height="3" fill="#ff0000"/>
<rect x="104" y="397" width="1" height="5" fill="#ff0000"/>
<rect x="103" y="399" width="3" height="2" fill="#ff0000"/>
<rect x="107" y="401" width="1" height="10" fill="#ff0000"/>
<rect x="106" y="403" width="3" height="2" fill="#ff0000"/>
<rect x="110" y="401" width="1" height="11" fill="#ff0000"/>
<rect x="109" y="408" width="3" height="4" fill="#ff0000"/>
<rect x="113" y="401" width="1" height="11" fill="#00ff00"/>
<rect x="112" y="402" width="3" height="9" fill="#00ff00"/>
<rect x="113" y="403" width="1" height="7" fill="#fff"/>
<rect x="115" y="398" width="1" height="8" fill="#00ff00"/>
<rect x="114" y="399" width="3" height="7" fill="#00ff00"/>
<rect x="115" y="400" width="1" height="5" fill="#fff"/>
<rect x="118" y="392" width="1" height="12" fill="#00ff00"/>
<rect x="117" y="397" width="3" height="4" fill="#00ff00"/>
<rect x="118" y="398" width="1" height="2" fill="#fff"/>
<rect x="121" y="393" width="1" height="13" fill="#00ff00"/>
<rect x="120" y="393" width="3" height="7" fill="#00ff00"/>
<rect x="121" y="394" width="1" height="5" fill="#fff"/>
<rect x="124" y="387" width="1" height="8" fill="#00ff00"/>
<rect x="123" y="389" width="3" height="5" fill="#00ff00"/>
<rect x="124" y="390" width="1" height="3" fill="#fff"/>
<rect x="127" y="379" width="1" height="17" fill="#ff0000"/>
<rect x="126" y="390" width="3" height="6" fill="#ff0000"/>
<rect x="130" y="383" width="1" height="14" fill="#00ff00"/>
<rect x="129" y="385" width="3" height="8" fill="#00ff00"/>
<rect x="130" y="386" width="1" height="6" fill="#fff"/>
<rect x="132" y="371" width="1" height="16" fill="#00ff00"/>
<rect x="131" y="372" width="3" height="14" fill="#00ff00"/>
<rect x="132" y="373" width="1" height="12" fill="#fff"/>
<rect x="135" y="361" width="1" height="16" fill="#00ff00"/>
<rect x="134" y="370" width="3" height="3" fill="#00ff00"/>
<rect x="135" y="371" width="1" height="1" fill="#fff"/>
<rect x="138" y="367" width="1" height="16" fill="#ff0000"/>
<rect x="137" y="371" width="3" height="5" fill="#ff0000"/>
<rect x="141" y="371" width="1" height="10" fill="#00ff00"/>
<rect x="140" y="373" width="3" height="6" fill="#00ff00"/>
<rect x="141" y="374" width="1" height="4" fill="#fff"/>
<rect x="144" y="372" width="1" height="10" fill="#00ff00"/>
<rect x="143" y="376" width="3" height="3" fill="#00ff00"/>
<rect x="144" y="377" width="1" height="1" fill="#fff"/>
<rect x="146" y="372" width="1" height="10" fill="#00ff00"/>
<rect x="145" y="374" width="3" height="2" fill="#00ff00"/>
<rect x="149" y="370" width="1" height="18" fill="#ff0000"/>
<rect x="148" y="377" width="3" height="2" fill="#ff0000"/>
<rect x="152" y="377" width="1" height="12" fill="#ff0000"/>
<rect x="151" y="380" width="3" height="3" fill="#ff0000"/>
<rect x="155" y="389" width="1" height="12" fill="#ff0000"/>
<rect x="154" y="390" width="3" height="6" fill="#ff0000"/>
<rect x="158" y="394" width="1" height="12" fill="#ff0000"/>
<rect x="157" y="395" width="3" height="8" fill="#ff0000"/>
<rect x="161" y="400" width="1" height="16" fill="#ff0000"/>
<rect x="160" y="402" width="3" height="12" fill="#ff0000"/>
<rect x="163" y="408" width="1" height="10" fill="#00ff00"/>
<rect x="162" y="408" width="3" height="7" fill="#00ff00"/>
<rect x="163" y="409" width="1" height="5" fill="#fff"/>
<rect x="166" y="400" width="1" height="10" fill="#00ff00"/>
<rect x="165" y="403" width="3" height="6" fill="#00ff00"/>
<rect x="166" y="404" width="1" height="4" fill="#fff"/>
<rect x="169" y="403" width="1" height="66" fill="#ff0000"/>
<rect x="168" y="403" width="3" height="60" fill="#ff0000"/>
<rect x="172" y="462" width="1" height="15" fill="#ff0000"/>
<rect x="171" y="463" width="3" height="14" fill="#ff0000"/>
<rect x="175" y="476" width="1" height="58" fill="#ff0000"/>
<rect x="174" y="477" width="3" height="56" fill="#ff0000"/>
<rect x="177" y="532" width="1" height="37" fill="#ff0000"/>
<rect x="176" y="532" width="3" height="31" fill="#ff0000"/>
<rect x="180" y="506" width="1" height="58" fill="#00ff00"/>
<rect x="179" y="507" width="3" height="57" fill="#00ff00"/>
<rect x="180" y="508" width="1" height="55" fill="#fff"/>
<rect x="183" y="481" width="1" height="30" fill="#00ff00"/>
<rect x="182" y="489" width="3" height="17" fill="#00ff00"/>
<rect x="183" y="490" width="1" height="15" fill="#fff"/>
<rect x="186" y="481" width="1" height="12" fill="#00ff00"/>
<rect x="185" y="485" width="3" height="7" fill="#00ff00"/>
<rect x="186" y="486" width="1" height="5" fill="#fff"/>
<rect x="189" y="484" width="1" height="17" fill="#ff0000"/>
<rect x="188" y="484" width="3" height="16" fill="#ff0000"/>
<rect x="192" y="496" width="1" height="11" fill="#ff0000"/>
<rect x="191" y="503" width="3" height="2" fill="#ff0000"/>
<rect x="194" y="499" width="1" height="10" fill="#00ff00"/>
<rect x="193" y="503" width="3" height="1" fill="#00ff00"/>
<rect x="197" y="484" width="1" height="22" fill="#00ff00"/>
<rect x="196" y="490" width="3" height="13" fill="#00ff00"/>
<rect x="197" y="491" width="1" height="11" fill="#fff"/>
<rect x="200" y="487" width="1" height="12" fill="#ff0000"/>
<rect x="199" y="494" width="3" height="2" fill="#ff0000"/>
<rect x="203" y="496" width="1" height="41" fill="#ff0000"/>
<rect x="202" y="496" width="3" height="13" fill="#ff0000"/>
<rect x="206" y="496" width="1" height="20" fill="#00ff00"/>
<rect x="205" y="496" width="3" height="17" fill="#00ff00"/>
<rect x="206" y="497" width="1" height="15" fill="#fff"/>
<rect x="208" y="490" width="1" height="10" fill="#ff0000"/>
<rect x="207" y="496" width="3" height="1" fill="#ff0000"/>
<rect x="211" y="493" width="1" height="8" fill="#00ff00"/>
<rect x="210" y="496" width="3" height="4" fill="#00ff00"/>
<rect x="211" y="497" width="1" height="2" fill="#fff"/>
<rect x="214" y="492" width="1" height="5" fill="#ff0000"/>
<rect x="213" y="494" width="3" height="2" fill="#ff0000"/>
<rect x="217" y="492" width="1" height="5" fill="#00ff00"/>
<rect x="216" y="494" width="3" height="2" fill="#00ff00"/>
<rect x="220" y="489" width="1" height="7" fill="#00ff00"/>
<rect x="219" y="491" width="3" height="4" fill="#00ff00"/>
<rect x="220" y="492" width="1" height="2" fill="#fff"/>
<rect x="222" y="486" width="1" height="7" fill="#00ff00"/>
<rect x="221" y="490" width="3" height="2" fill="#00ff00"/>
<rect x="225" y="488" width="1" height="7" fill="#00ff00"/>
<rect x="224" y="489" width="3" height="3" fill="#00ff00"/>
<rect x="225" y="490" width="1" height="1" fill="#fff"/>
<rect x="228" y="483" width="1" height="7" fill="#00ff00"/>
<rect x="227" y="484" width="3" height="5" fill="#00ff00"/>
<rect x="228" y="485" width="1" height="3" fill="#fff"/>
<rect x="231" y="480" width="1" height="10" fill="#ff0000"/>
<rect x="230" y="483" width="3" height="4" fill="#ff0000"/>
<rect x="234" y="478" width="1" height="10" fill="#00ff00"/>
<rect x="233" y="479" width="3" height="7" fill="#00ff00"/>
<rect x="234" y="480" width="1" height="5" fill="#fff"/>
<rect x="237" y="470" width="1" height="12" fill="#00ff00"/>
<rect x="236" y="474" width="3" height="6" fill="#00ff00"/>
<rect x="237" y="475" width="1" height="4" fill="#fff"/>
<rect x="239" y="468" width="1" height="9" fill="#00ff00"/>
<rect x="238" y="471" width="3" height="4" fill="#00ff00"/>
<rect x="239" y="472" width="1" height="2" fill="#fff"/>
<rect x="242" y="467" width="1" height="8" fill="#00ff00"/>
<rect x="241" y="469" width="3" height="3" fill="#00ff00"/>
<rect x="242" y="470" width="1" height="1" fill="#fff"/>
<rect x="245" y="468" width="1" height="5" fill="#ff0000"/>
<rect x="244" y="469" width="3" height="3" fill="#ff0000"/>
<rect x="248" y="471" width="1" height="4" fill="#ff0000"/>
<rect x="247" y="472" width="3" height="2" fill="#ff0000"/>
<rect x="251" y="473" width="1" height="5" fill="#00ff00"/>
<rect x="250" y="474" width="3" height="3" fill="#00ff00"/>
<rect x="251" y="475" width="1" height="1" fill="#fff"/>
<rect x="253" y="471" width="1" height="8" fill="#ff0000"/>
<rect x="252" y="473" width="3" height="3" fill="#ff0000"/>
<rect x="256" y="473" width="1" height="7" fill="#ff0000"/>
<rect x="255" y="475" width="3" height="2" fill="#ff0000"/>
<rect x="259" y="474" width="1" height="6" fill="#ff0000"/>
<rect x="258" y="476" width="3" height="2" fill="#ff0000"/>
<rect x="262" y="467" width="1" height="17" fill="#00ff00"/>
<rect x="261" y="468" width="3" height="12" fill="#00ff00"/>
<rect x="262" y="469" width="1" height="10" fill="#fff"/>
<rect x="265" y="460" width="1" height="10" fill="#00ff00"/>
<rect x="264" y="461" width="3" height="7" fill="#00ff00"/>
<rect x="265" y="462" width="1" height="5" fill="#fff"/>
<rect x="268" y="450" width="1" height="12" fill="#00ff00"/>
<rect x="267" y="453" width="3" height="8" fill="#00ff00"/>
<rect x="268" y="454" width="1" height="6" fill="#fff"/>
<rect x="270" y="447" width="1" height="9" fill="#00ff00"/>
<rect x="269" y="450" width="3" height="4" fill="#00ff00"/>
<rect x="270" y="451" width="1" height="2" fill="#fff"/>
<rect x="273" y="446" width="1" height="13" fill="#ff0000"/>
<rect x="272" y="451" width="3" height="4" fill="#ff0000"/>
<rect x="276" y="444" width="1" height="14" fill="#00ff00"/>
<rect x="275" y="446" width="3" height="10" fill="#00ff00"/>
<rect x="276" y="447" width="1" height="8" fill="#fff"/>
<rect x="279" y="433" width="1" height="14" fill="#00ff00"/>
<rect x="278" y="436" width="3" height="10" fill="#00ff00"/>
<rect x="279" y="437" width="1" height="8" fill="#fff"/>
<rect x="282" y="426" width="1" height="13" fill="#00ff00"/>
<rect x="281" y="429" width="3" height="7" fill="#00ff00"/>
<rect x="282" y="430" width="1" height="5" fill="#fff"/>
<rect x="284" y="423" width="1" height="8" fill="#00ff00"/>
<rect x="283" y="426" width="3" height="4" fill="#00ff00"/>
<rect x="284" y="427" width="1" height="2" fill="#fff"/>
<rect x="287" y="426" width="1" height="10" fill="#ff0000"/>
<rect x="286" y="426" width="3" height="10" fill="#ff0000"/>
<rect x="290" y="434" width="1" height="9" fill="#ff0000"/>
<rect x="289" y="436" width="3" height="7" fill="#ff0000"/>
<rect x="293" y="439" width="1" height="5" fill="#ff0000"/>
<rect x="292" y="440" width="3" height="3" fill="#ff0000"/>
<rect x="296" y="441" width="1" height="8" fill="#ff0000"/>
<rect x="295" y="443" width="3" height="1" fill="#ff0000"/>
<rect x="298" y="439" width="1" height="5" fill="#00ff00"/>
<rect x="297" y="439" width="3" height="4" fill="#00ff00"/>
<rect x="298" y="440" width="1" height="2" fill="#fff"/>
<rect x="301" y="439" width="1" height="13" fill="#ff0000"/>
<rect x="300" y="439" width="3" height="11" fill="#ff0000"/>
<rect x="304" y="437" width="1" height="13" fill="#00ff00"/>
<rect x="303" y="438" width="3" height="11" fill="#00ff00"/>
<rect x="304" y="439" width="1" height="9" fill="#fff"/>
<rect x="307" y="435" width="1" height="4" fill="#00ff00"/>
<rect x="306" y="436" width="3" height="3" fill="#00ff00"/>
<rect x="307" y="437" width="1" height="1" fill="#fff"/>
<rect x="310" y="432" width="1" height="10" fill="#ff0000"/>
<rect x="309" y="436" width="3" height="2" fill="#ff0000"/>
<rect x="313" y="436" width="1" height="7" fill="#ff0000"/>
<rect x="312" y="437" width="3" height="2" fill="#ff0000"/>
<rect x="315" y="435" width="1" height="7" fill="#ff0000"/>
<rect x="314" y="439" width="3" height="2" fill="#ff0000"/>
<rect x="318" y="439" width="1" height="6" fill="#00ff00"/>
<rect x="317" y="441" width="3" height="1" fill="#00ff00"/>
<rect x="321" y="436" width="1" height="5" fill="#00ff00"/>
<rect x="320" y="437" width="3" height="2" fill="#00ff00"/>
<rect x="324" y="436" width="1" height="4" fill="#ff0000"/>
<rect x="323" y="437" width="3" height="2" fill="#ff0000"/>
<rect x="327" y="436" width="1" height="4" fill="#00ff00"/>
<rect x="326" y="437" width="3" height="2" fill="#00ff00"/>
<rect x="329" y="433" width="1" height="6" fill="#00ff00"/>
<rect x="328" y="434" width="3" height="4" fill="#00ff00"/>
<rect x="329" y="435" width="1" height="2" fill="#fff"/>
<rect x="332" y="433" width="1" height="4" fill="#00ff00"/>
<rect x="331" y="433" width="3" height="3" fill="#00ff00"/>
<rect x="332" y="434" width="1" height="1" fill="#fff"/>
<rect x="335" y="432" width="1" height="4" fill="#ff0000"/>
<rect x="334" y="433" width="3" height="3" fill="#ff0000"/>
<rect x="338" y="426" width="1" height="11" fill="#00ff00"/>
<rect x="337" y="426" width="3" height="10" fill="#00ff00"/>
<rect x="338" y="427" width="1" height="8" fill="#fff"/>
<rect x="341" y="421" width="1" height="9" fill="#ff0000"/>
<rect x="340" y="424" width="3" height="4" fill="#ff0000"/>
<rect x="344" y="419" width="1" height="9" fill="#00ff00"/>
<rect x="343" y="420" width="3" height="7" fill="#00ff00"/>
<rect x="344" y="421" width="1" height="5" fill="#fff"/>
<rect x="346" y="410" width="1" height="11" fill="#00ff00"/>
<rect x="345" y="411" width="3" height="8" fill="#00ff00"/>
<rect x="346" y="412" width="1" height="6" fill="#fff"/>
<rect x="349" y="401" width="1" height="8" fill="#00ff00"/>
<rect x="348" y="402" width="3" height="4" fill="#00ff00"/>
<rect x="349" y="403" width="1" height="2" fill="#fff"/>
<rect x="352" y="396" width="1" height="8" fill="#00ff00"/>
<rect x="351" y="399" width="3" height="4" fill="#00ff00"/>
<rect x="352" y="400" width="1" height="2" fill="#fff"/>
<rect x="355" y="394" width="1" height="9" fill="#ff0000"/>
<rect x="354" y="397" width="3" height="4" fill="#ff0000"/>
<rect x="358" y="398" width="1" height="5" fill="#00ff00"/>
<rect x="357" y="400" width="3" height="1" fill="#00ff00"/>
<rect x="360" y="396" width="1" height="10" fill="#00ff00"/>
<rect x="359" y="397" width="3" height="2" fill="#00ff00"/>
<rect x="363" y="386" width="1" height="11" fill="#00ff00"/>
<rect x="362" y="394" width="3" height="2" fill="#00ff00"/>
<rect x="366" y="387" width="1" height="9" fill="#00ff00"/>
<rect x="365" y="387" width="3" height="8" fill="#00ff00"/>
<rect x="366" y="388" width="1" height="6" fill="#fff"/>
<rect x="369" y="380" width="1" height="7" fill="#00ff00"/>
<rect x="368" y="381" width="3" height="6" fill="#00ff00"/>
<rect x="369" y="382" width="1" height="4" fill="#fff"/>
<rect x="372" y="358" width="1" height="26" fill="#00ff00"/>
<rect x="371" y="368" width="3" height="15" fill="#00ff00"/>
<rect x="372" y="369" width="1" height="13" fill="#fff"/>
<rect x="374" y="363" width="1" height="15" fill="#ff0000"/>
<rect x="373" y="366" width="3" height="9" fill="#ff0000"/>
<rect x="377" y="367" width="1" height="12" fill="#00ff00"/>
<rect x="376" y="368" width="3" height="8" fill="#00ff00"/>
<rect x="377" y="369" width="1" height="6" fill="#fff"/>
<rect x="380" y="355" width="1" height="13" fill="#00ff00"/>
<rect x="379" y="363" width="3" height="3" fill="#00ff00"/>
<rect x="380" y="364" width="1" height="1" fill="#fff"/>
<rect x="383" y="356" width="1" height="10" fill="#00ff00"/>
<rect x="382" y="358" width="3" height="2" fill="#00ff00"/>
<rect x="386" y="344" width="1" height="14" fill="#00ff00"/>
<rect x="385" y="345" width="3" height="12" fill="#00ff00"/>
<rect x="386" y="346" width="1" height="10" fill="#fff"/>
<rect x="389" y="311" width="1" height="32" fill="#00ff00"/>
<rect x="388" y="312" width="3" height="28" fill="#00ff00"/>
<rect x="389" y="313" width="1" height="26" fill="#fff"/>
<rect x="391" y="291" width="1" height="54" fill="#ff0000"/>
<rect x="390" y="303" width="3" height="37" fill="#ff0000"/>
<rect x="394" y="319" width="1" height="21" fill="#00ff00"/>
<rect x="393" y="319" width="3" height="20" fill="#00ff00"/>
<rect x="394" y="320" width="1" height="18" fill="#fff"/>
<rect x="397" y="302" width="1" height="18" fill="#00ff00"/>
<rect x="396" y="302" width="3" height="15" fill="#00ff00"/>
<rect x="397" y="303" width="1" height="13" fill="#fff"/>
<rect x="400" y="298" width="1" height="17" fill="#ff0000"/>
<rect x="399" y="304" width="3" height="7" fill="#ff0000"/>
<rect x="403" y="295" width="1" height="19" fill="#00ff00"/>
<rect x="402" y="295" width="3" height="15" fill="#00ff00"/>
<rect x="403" y="296" width="1" height="13" fill="#fff"/>
<rect x="405" y="279" width="1" height="41" fill="#ff0000"/>
<rect x="404" y="291" width="3" height="8" fill="#ff0000"/>
<rect x="408" y="294" width="1" height="10" fill="#00ff00"/>
<rect x="407" y="295" width="3" height="8" fill="#00ff00"/>
<rect x="408" y="296" width="1" height="6" fill="#fff"/>
<rect x="411" y="283" width="1" height="11" fill="#00ff00"/>
<rect x="410" y="286" width="3" height="3" fill="#00ff00"/>
<rect x="411" y="287" width="1" height="1" fill="#fff"/>
<rect x="414" y="278" width="1" height="17" fill="#00ff00"/>
<rect x="413" y="282" width="3" height="3" fill="#00ff00"/>
<rect x="414" y="283" width="1" height="1" fill="#fff"/>
<rect x="417" y="267" width="1" height="13" fill="#00ff00"/>
<rect x="416" y="268" width="3" height="11" fill="#00ff00"/>
<rect x="417" y="269" width="1" height="9" fill="#fff"/>
<rect x="420" y="266" width="1" height="11" fill="#00ff00"/>
<rect x="419" y="268" width="3" height="2" fill="#00ff00"/>
<rect x="422" y="254" width="1" height="21" fill="#00ff00"/>
<rect x="421" y="255" width="3" height="10" fill="#00ff00"/>
<rect x="422" y="256" width="1" height="8" fill="#fff"/>
<rect x="425" y="236" width="1" height="18" fill="#00ff00"/>
<rect x="424" y="237" width="3" height="14" fill="#00ff00"/>
<rect x="425" y="238" width="1" height="12" fill="#fff"/>
<rect x="428" y="222" width="1" height="32" fill="#ff0000"/>
<rect x="427" y="230" width="3" height="16" fill="#ff0000"/>
<rect x="431" y="239" width="1" height="12" fill="#00ff00"/>
<rect x="430" y="240" width="3" height="5" fill="#00ff00"/>
<rect x="431" y="241" width="1" height="3" fill="#fff"/>
<rect x="434" y="224" width="1" height="16" fill="#00ff00"/>
<rect x="433" y="231" width="3" height="8" fill="#00ff00"/>
<rect x="434" y="232" width="1" height="6" fill="#fff"/>
<rect x="436" y="229" width="1" height="41" fill="#ff0000"/>
<rect x="435" y="230" width="3" height="11" fill="#ff0000"/>
<rect x="439" y="226" width="1" height="15" fill="#00ff00"/>
<rect x="438" y="238" width="3" height="2" fill="#00ff00"/>
<rect x="442" y="239" width="1" height="48" fill="#ff0000"/>
<rect x="441" y="242" width="3" height="40" fill="#ff0000"/>
<rect x="445" y="277" width="1" height="29" fill="#ff0000"/>
<rect x="444" y="277" width="3" height="5" fill="#ff0000"/>
<rect x="448" y="268" width="1" height="40" fill="#00ff00"/>
<rect x="447" y="269" width="3" height="39" fill="#00ff00"/>
<rect x="448" y="270" width="1" height="37" fill="#fff"/>
<rect x="451" y="256" width="1" height="13" fill="#00ff00"/>
<rect x="450" y="265" width="3" height="2" fill="#00ff00"/>
<rect x="453" y="263" width="1" height="10" fill="#00ff00"/>
<rect x="452" y="265" width="3" height="2" fill="#00ff00"/>
<rect x="456" y="254" width="1" height="14" fill="#00ff00"/>
<rect x="455" y="254" width="3" height="8" fill="#00ff00"/>
<rect x="456" y="255" width="1" height="6" fill="#fff"/>
<rect x="459" y="244" width="1" height="10" fill="#00ff00"/>
<rect x="458" y="245" width="3" height="9" fill="#00ff00"/>
<rect x="459" y="246" width="1" height="7" fill="#fff"/>
<rect x="462" y="233" width="1" height="12" fill="#00ff00"/>
<rect x="461" y="241" width="3" height="3" fill="#00ff00"/>
<rect x="462" y="242" width="1" height="1" fill="#fff"/>
<rect x="465" y="225" width="1" height="27" fill="#ff0000"/>
<rect x="464" y="236" width="3" height="15" fill="#ff0000"/>
<rect x="467" y="249" width="1" height="36" fill="#ff0000"/>
<rect x="466" y="254" width="3" height="30" fill="#ff0000"/>
<rect x="470" y="272" width="1" height="13" fill="#00ff00"/>
<rect x="469" y="272" width="3" height="12" fill="#00ff00"/>
<rect x="470" y="273" width="1" height="10" fill="#fff"/>
<rect x="473" y="265" width="1" height="13" fill="#ff0000"/>
<rect x="472" y="270" width="3" height="3" fill="#ff0000"/>
<rect x="476" y="273" width="1" height="24" fill="#ff0000"/>
<rect x="475" y="273" width="3" height="2" fill="#ff0000"/>
<rect x="479" y="263" width="1" height="12" fill="#00ff00"/>
<rect x="478" y="264" width="3" height="8" fill="#00ff00"/>
<rect x="479" y="265" width="1" height="6" fill="#fff"/>
<rect x="481" y="251" width="1" height="14" fill="#00ff00"/>
<rect x="480" y="252" width="3" height="12" fill="#00ff00"/>
<rect x="481" y="253" width="1" height="10" fill="#fff"/>
<rect x="484" y="240" width="1" height="19" fill="#ff0000"/>
<rect x="483" y="248" width="3" height="10" fill="#ff0000"/>
<rect x="487" y="251" width="1" height="13" fill="#ff0000"/>
<rect x="486" y="257" width="3" height="4" fill="#ff0000"/>
<rect x="490" y="258" width="1" height="10" fill="#ff0000"/>
<rect x="489" y="260" width="3" height="3" fill="#ff0000"/>
<rect x="493" y="260" width="1" height="10" fill="#ff0000"/>
<rect x="492" y="263" width="3" height="3" fill="#ff0000"/>
<rect x="496" y="262" width="1" height="22" fill="#ff0000"/>
<rect x="495" y="266" width="3" height="10" fill="#ff0000"/>
<rect x="498" y="269" width="1" height="12" fill="#ff0000"/>
<rect x="497" y="274" width="3" height="5" fill="#ff0000"/>
<rect x="501" y="265" width="1" height="17" fill="#00ff00"/>
<rect x="500" y="266" width="3" height="11" fill="#00ff00"/>
<rect x="501" y="267" width="1" height="9" fill="#fff"/>
<rect x="504" y="254" width="1" height="10" fill="#00ff00"/>
<rect x="503" y="260" width="3" height="3" fill="#00ff00"/>
<rect x="504" y="261" width="1" height="1" fill="#fff"/>
<rect x="507" y="258" width="1" height="10" fill="#ff0000"/>
<rect x="506" y="260" width="3" height="8" fill="#ff0000"/>
<rect x="510" y="267" width="1" height="6" fill="#ff0000"/>
<rect x="509" y="268" width="3" height="3" fill="#ff0000"/>
<rect x="512" y="269" width="1" height="23" fill="#ff0000"/>
<rect x="511" y="271" width="3" height="7" fill="#ff0000"/>
<rect x="515" y="274" width="1" height="6" fill="#00ff00"/>
<rect x="514" y="277" width="3" height="1" fill="#00ff00"/>
<rect x="518" y="274" width="1" height="20" fill="#ff0000"/>
<rect x="517" y="278" width="3" height="12" fill="#ff0000"/>
<rect x="521" y="292" width="1" height="13" fill="#ff0000"/>
<rect x="520" y="293" width="3" height="11" fill="#ff0000"/>
<rect x="524" y="272" width="1" height="32" fill="#00ff00"/>
<rect x="523" y="273" width="3" height="30" fill="#00ff00"/>
<rect x="524" y="274" width="1" height="28" fill="#fff"/>
<rect x="527" y="268" width="1" height="12" fill="#ff0000"/>
<rect x="526" y="272" width="3" height="7" fill="#ff0000"/>
<rect x="529" y="261" width="1" height="21" fill="#00ff00"/>
<rect x="528" y="267" width="3" height="4" fill="#00ff00"/>
<rect x="529" y="268" width="1" height="2" fill="#fff"/>
<rect x="532" y="271" width="1" height="7" fill="#00ff00"/>
<rect x="531" y="274" width="3" height="3" fill="#00ff00"/>
<rect x="532" y="275" width="1" height="1" fill="#fff"/>
<rect x="535" y="266" width="1" height="13" fill="#ff0000"/>
<rect x="534" y="271" width="3" height="6" fill="#ff0000"/>
<rect x="538" y="270" width="1" height="15" fill="#00ff00"/>
<rect x="537" y="275" width="3" height="10" fill="#00ff00"/>
<rect x="538" y="276" width="1" height="8" fill="#fff"/>
<rect x="541" y="256" width="1" height="16" fill="#ff0000"/>
<rect x="540" y="268" width="3" height="3" fill="#ff0000"/>
<rect x="543" y="268" width="1" height="6" fill="#00ff00"/>
<rect x="542" y="269" width="3" height="2" fill="#00ff00"/>
<rect x="546" y="260" width="1" height="8" fill="#00ff00"/>
<rect x="545" y="264" width="3" height="3" fill="#00ff00"/>
<rect x="546" y="265" width="1" height="1" fill="#fff"/>
<rect x="549" y="258" width="1" height="13" fill="#ff0000"/>
<rect x="548" y="263" width="3" height="5" fill="#ff0000"/>
<rect x="552" y="258" width="1" height="57" fill="#ff0000"/>
<rect x="551" y="271" width="3" height="43" fill="#ff0000"/>
<rect x="555" y="307" width="1" height="19" fill="#00ff00"/>
<rect x="554" y="308" width="3" height="8" fill="#00ff00"/>
<rect x="555" y="309" width="1" height="6" fill="#fff"/>
<rect x="557" y="294" width="1" height="22" fill="#00ff00"/>
<rect x="556" y="295" width="3" height="10" fill="#00ff00"/>
<rect x="557" y="296" width="1" height="8" fill="#fff"/>
<rect x="560" y="290" width="1" height="13" fill="#ff0000"/>
<rect x="559" y="290" width="3" height="12" fill="#ff0000"/>
<rect x="563" y="294" width="1" height="14" fill="#00ff00"/>
<rect x="562" y="298" width="3" height="1" fill="#00ff00"/>
<rect x="566" y="288" width="1" height="18" fill="#ff0000"/>
<rect x="565" y="293" width="3" height="12" fill="#ff0000"/>
<rect x="569" y="299" width="1" height="17" fill="#00ff00"/>
<rect x="568" y="301" width="3" height="6" fill="#00ff00"/>
<rect x="569" y="302" width="1" height="4" fill="#fff"/>
<rect x="572" y="289" width="1" height="12" fill="#00ff00"/>
<rect x="571" y="296" width="3" height="3" fill="#00ff00"/>
<rect x="572" y="297" width="1" height="1" fill="#fff"/>
<rect x="574" y="290" width="1" height="14" fill="#ff0000"/>
<rect x="573" y="296" width="3" height="4" fill="#ff0000"/>
<rect x="577" y="293" width="1" height="13" fill="#ff0000"/>
<rect x="576" y="296" width="3" height="8" fill="#ff0000"/>
<rect x="580" y="298" width="1" height="31" fill="#ff0000"/>
<rect x="579" y="303" width="3" height="26" fill="#ff0000"/>
<rect x="583" y="304" width="1" height="36" fill="#00ff00"/>
<rect x="582" y="304" width="3" height="27" fill="#00ff00"/>
<rect x="583" y="305" width="1" height="25" fill="#fff"/>
<rect x="586" y="300" width="1" height="7" fill="#00ff00"/>
<rect x="585" y="301" width="3" height="2" fill="#00ff00"/>
<rect x="588" y="298" width="1" height="13" fill="#ff0000"/>
<rect x="587" y="300" width="3" height="3" fill="#ff0000"/>
<rect x="591" y="302" width="1" height="23" fill="#ff0000"/>
<rect x="590" y="304" width="3" height="20" fill="#ff0000"/>
</g>
<polyline shape-rendering="crispEdges" points="0.0,430.6 4.6,429.4 7.7,425.5 13.9,424.0 20.1,421.6 27.0,420.9 32.5,422.4 37.9,425.5 42.5,430.9 46.4,435.5 49.5,438.9 53.3,439.9 57.2,437.1 61.8,432.5 66.5,427.8 71.1,423.2 75.7,417.8 78.8,410.8 81.9,405.4 86.5,398.1 91.5,391.9 96.4,387.5 101.4,385.3 108.8,384.8 116.2,384.5 123.6,383.8 128.6,383.3 132.3,380.8 134.8,377.1 138.5,370.9 140.0,370.4 144.9,366.7 152.4,364.9 159.8,364.2 166.0,363.0 167.7,358.0 170.9,346.9 173.4,332.0 175.1,317.2 176.6,308.5 178.3,304.8 180.8,304.3 184.5,306.8 188.2,312.3 191.9,322.1 195.6,332.0 199.3,343.2 203.1,355.5 206.8,374.1 210.5,391.4 214.2,406.2 217.2,421.1 219.6,438.4 222.8,457.2 226.5,463.4 231.5,465.9 233.5,473.3 235.2,477.0 238.9,473.3 243.9,468.3 250.0,464.6 256.2,462.1 261.2,459.7 266.1,453.5 271.1,447.3 276.0,442.4 279.7,434.9 283.7,429.0 288.7,422.8 294.8,420.4 302.3,419.1 309.7,418.6 314.6,422.1 320.8,425.8 329.5,427.8 338.1,427.8 343.1,424.1 348.0,414.2 354.2,404.3 360.4,394.4 366.5,385.7 370.3,377.1 374.0,367.2 378.9,357.3 381.0,355.0 387.2,339.7 392.1,323.6 397.1,306.3 402.0,291.4 407.0,277.8 411.9,265.5 416.9,254.3 421.8,242.0 426.8,228.4 430.5,218.5 434.2,213.5 438.6,211.1 442.8,214.8 447.8,219.7 454.0,221.0 461.4,220.2 468.8,221.0 476.2,222.2 483.6,225.9 487.0,226.8 493.2,235.9 500.6,242.1 509.3,242.8 514.2,245.8 519.1,250.3 526.6,250.7 534.0,250.0 538.9,253.2 542.6,256.4 547.6,255.7 551.3,252.0 555.0,249.5 561.2,252.0 568.6,255.0 576.0,255.2 581.0,254.5 585.9,256.9 590.9,259.9" fill="none" stroke="#000" stroke-width="1"/>
<polyline shape-rendering="crispEdges" points="0.0,439.4 3.1,444.8 6.2,449.5 9.3,454.9 12.4,459.5 15.5,463.4 18.5,468.0 21.6,471.9 24.7,475.7 29.4,478.1 34.0,479.1 40.2,480.1 44.8,478.1 49.5,476.2 54.1,476.0 58.7,478.1 64.9,479.3 71.1,478.8 77.3,477.0 83.5,475.0 89.6,472.6 94.3,468.0 97.4,463.4 100.0,458.0 103.9,452.5 108.8,446.3 113.7,438.9 118.7,432.7 123.6,426.5 127.3,418.6 129.8,416.2 134.8,416.7 140.0,417.3 147.4,415.6 154.8,414.4 159.8,414.4 163.5,417.3 166.0,423.5 168.4,435.9 170.9,449.8 172.9,479.5 175.9,504.2 179.6,528.9 184.5,543.7 189.5,556.1 194.4,564.8 199.3,569.7 203.1,571.4 208.0,569.7 212.9,566.0 217.9,556.1 221.6,543.7 222.8,538.8 229.0,535.8 232.7,524.0 234.5,509.1 237.7,510.4 242.6,512.1 248.8,510.4 256.2,506.7 261.2,502.9 268.6,499.7 276.0,497.3 280.0,498.3 286.2,495.3 292.4,489.6 298.5,485.9 304.7,482.2 310.9,474.8 314.6,463.6 318.3,456.2 324.5,452.5 330.7,448.8 338.1,448.1 343.1,450.0 349.2,455.0 356.7,458.2 364.1,458.7 371.5,459.2 377.7,455.0 382.6,450.0 386.8,445.8 388.8,448.3 391.3,443.9 397.5,437.7 403.6,427.8 409.8,419.1 416.0,406.8 422.2,396.9 428.4,387.0 432.1,377.1 435.8,362.3 438.6,355.0 440.4,345.9 445.3,337.2 447.8,323.6 452.7,313.7 457.7,305.0 462.6,297.6 468.8,294.4 476.2,295.1 483.6,295.9 487.0,296.5 496.9,292.8 501.8,286.6 508.0,287.1 514.2,289.1 519.1,291.5 524.1,294.5 534.0,295.3 543.9,294.0 550.1,294.0 552.5,303.9 557.5,308.9 563.7,313.8 569.8,317.5 577.3,319.2 582.2,324.9 587.1,328.6 590.9,331.1" fill="none" stroke="#000" stroke-width="1"/>
<polyline shape-rendering="crispEdges" points="0.0,437.1 7.7,440.2 15.5,443.3 23.2,447.1 30.9,450.2 38.6,452.6 43.3,455.6 49.5,456.9 57.2,456.9 64.9,454.9 72.6,451.0 80.4,444.8 86.6,438.6 92.7,430.9 100.0,421.6 103.9,417.9 111.3,413.7 118.7,409.2 126.1,404.3 133.5,398.1 140.0,395.1 144.9,391.4 149.9,389.7 154.8,388.9 161.0,389.4 164.7,390.1 169.7,393.9 173.4,400.0 177.1,411.2 182.0,421.1 187.0,431.0 190.7,438.4 193.2,444.8 199.3,459.7 206.8,475.7 214.2,488.1 219.1,495.5 222.8,499.7 227.8,501.0 232.7,496.8 238.9,491.8 246.3,489.3 253.7,486.4 261.2,482.4 268.6,477.0 274.8,472.0 280.0,467.3 287.4,461.2 294.8,456.2 302.3,451.8 309.7,446.8 317.1,442.6 324.5,439.4 331.9,437.9 339.3,437.4 345.5,436.4 351.7,432.7 359.1,426.5 366.5,420.4 374.0,410.5 381.4,400.6 386.3,393.2 390.0,384.5 395.0,374.6 401.2,363.5 405.7,355.0 411.9,343.4 418.1,329.8 424.3,316.2 430.5,301.3 434.2,291.4 439.1,280.3 445.3,275.4 451.5,270.4 457.7,264.2 465.1,258.1 471.3,257.6 477.5,258.8 483.6,260.5 489.8,263.5 494.4,265.6 500.6,264.3 508.0,263.9 514.2,266.8 520.4,271.3 527.8,271.8 535.2,273.7 542.6,275.0 548.8,275.5 555.0,278.7 561.2,282.2 567.4,285.4 572.3,286.6 577.3,286.6 582.2,290.3 587.1,294.0 591.4,296.0" fill="none" stroke="#000" stroke-width="2.25" stroke-linejoin="round"/>
<polyline shape-rendering="crispEdges" points="0.0,431.7 7.7,432.5 15.5,434.0 23.2,436.3 30.9,438.3 40.2,440.2 49.5,441.0 61.8,441.0 71.1,441.4 85.0,441.4 98.9,440.9 111.3,439.9 123.6,438.4 136.0,435.9 140.0,434.7 149.9,432.2 159.8,431.0 168.4,430.0 177.1,431.7 189.5,434.2 201.8,436.4 214.2,438.4 226.5,440.3 238.9,442.1 251.3,443.8 263.6,445.0 273.5,445.8 283.4,445.6 292.4,445.1 304.7,443.9 317.1,442.9 329.5,442.0 341.8,441.3 354.2,440.4 366.5,439.4 378.9,437.9 391.3,435.2 403.6,431.5 416.0,427.8 428.4,422.8 432.4,420.3 440.0,416.4 446.5,413.3 457.2,406.2 464.2,397.8 473.1,391.2 481.0,383.7 490.8,376.1 497.9,370.8 504.3,365.0 511.2,360.2 519.1,354.6 526.6,348.9 534.0,344.0 539.0,340.0 541.7,337.8 551.0,332.6 555.6,329.5 560.0,328.9 563.7,326.5 571.1,322.8 578.5,319.2 584.7,316.3 590.9,313.8" fill="none" stroke="#0000ff" stroke-width="2.2" stroke-linejoin="round"/>
<g shape-rendering="crispEdges" fill="#008c00">
<rect x="-1" y="650" width="2" height="7"/>
<rect x="2" y="645" width="2" height="12"/>
<rect x="5" y="647" width="2" height="10"/>
<rect x="8" y="648" width="2" height="9"/>
<rect x="10" y="649" width="2" height="8"/>
<rect x="13" y="649" width="2" height="8"/>
<rect x="16" y="648" width="2" height="9"/>
<rect x="19" y="647" width="2" height="10"/>
<rect x="22" y="650" width="2" height="7"/>
<rect x="24" y="648" width="2" height="9"/>
<rect x="27" y="648" width="2" height="9"/>
<rect x="30" y="648" width="2" height="9"/>
<rect x="33" y="648" width="2" height="9"/>
<rect x="36" y="649" width="2" height="8"/>
<rect x="38" y="649" width="2" height="8"/>
<rect x="41" y="648" width="2" height="9"/>
<rect x="44" y="649" width="2" height="8"/>
<rect x="47" y="649" width="2" height="8"/>
<rect x="50" y="644" width="2" height="13"/>
<rect x="53" y="646" width="2" height="11"/>
<rect x="55" y="648" width="2" height="9"/>
<rect x="58" y="645" width="2" height="12"/>
<rect x="61" y="644" width="2" height="13"/>
<rect x="64" y="644" width="2" height="13"/>
<rect x="67" y="648" width="2" height="9"/>
<rect x="69" y="648" width="2" height="9"/>
<rect x="72" y="642" width="2" height="15"/>
<rect x="75" y="642" width="2" height="15"/>
<rect x="78" y="641" width="2" height="16"/>
<rect x="81" y="641" width="2" height="16"/>
<rect x="84" y="643" width="2" height="14"/>
<rect x="86" y="642" width="2" height="15"/>
<rect x="89" y="646" width="2" height="11"/>
<rect x="92" y="641" width="2" height="16"/>
<rect x="95" y="643" width="2" height="14"/>
<rect x="98" y="642" width="2" height="15"/>
<rect x="100" y="645" width="2" height="12"/>
<rect x="103" y="646" width="2" height="11"/>
<rect x="106" y="643" width="2" height="14"/>
<rect x="109" y="646" width="2" height="11"/>
<rect x="112" y="644" width="2" height="13"/>
<rect x="114" y="644" width="2" height="13"/>
<rect x="117" y="646" width="2" height="11"/>
<rect x="120" y="643" width="2" height="14"/>
<rect x="123" y="646" width="2" height="11"/>
<rect x="126" y="643" width="2" height="14"/>
<rect x="129" y="646" width="2" height="11"/>
<rect x="131" y="645" width="2" height="12"/>
<rect x="134" y="643" width="2" height="14"/>
<rect x="137" y="641" width="2" height="16"/>
<rect x="140" y="645" width="2" height="12"/>
<rect x="143" y="645" width="2" height="12"/>
<rect x="145" y="644" width="2" height="13"/>
<rect x="148" y="642" width="2" height="15"/>
<rect x="151" y="645" width="2" height="12"/>
<rect x="154" y="647" width="2" height="10"/>
<rect x="157" y="645" width="2" height="12"/>
<rect x="160" y="647" width="2" height="10"/>
<rect x="162" y="645" width="2" height="12"/>
<rect x="165" y="646" width="2" height="11"/>
<rect x="168" y="626" width="2" height="31"/>
<rect x="171" y="629" width="2" height="28"/>
<rect x="174" y="639" width="2" height="18"/>
<rect x="176" y="631" width="2" height="26"/>
<rect x="179" y="646" width="2" height="11"/>
<rect x="182" y="628" width="2" height="29"/>
<rect x="185" y="638" width="2" height="19"/>
<rect x="188" y="641" width="2" height="16"/>
<rect x="191" y="644" width="2" height="13"/>
<rect x="193" y="645" width="2" height="12"/>
<rect x="196" y="637" width="2" height="20"/>
<rect x="199" y="642" width="2" height="15"/>
<rect x="202" y="631" width="2" height="26"/>
<rect x="205" y="641" width="2" height="16"/>
<rect x="207" y="644" width="2" height="13"/>
<rect x="210" y="644" width="2" height="13"/>
<rect x="213" y="648" width="2" height="9"/>
<rect x="216" y="647" width="2" height="10"/>
<rect x="219" y="648" width="2" height="9"/>
<rect x="221" y="643" width="2" height="14"/>
<rect x="224" y="643" width="2" height="14"/>
<rect x="227" y="642" width="2" height="15"/>
<rect x="230" y="644" width="2" height="13"/>
<rect x="233" y="645" width="2" height="12"/>
<rect x="236" y="642" width="2" height="15"/>
<rect x="238" y="638" width="2" height="19"/>
<rect x="241" y="640" width="2" height="17"/>
<rect x="244" y="639" width="2" height="18"/>
<rect x="247" y="643" width="2" height="14"/>
<rect x="250" y="645" width="2" height="12"/>
<rect x="252" y="642" width="2" height="15"/>
<rect x="255" y="638" width="2" height="19"/>
<rect x="258" y="644" width="2" height="13"/>
<rect x="261" y="640" width="2" height="17"/>
<rect x="264" y="631" width="2" height="26"/>
<rect x="267" y="637" width="2" height="20"/>
<rect x="269" y="638" width="2" height="19"/>
<rect x="272" y="636" width="2" height="21"/>
<rect x="275" y="635" width="2" height="22"/>
<rect x="278" y="627" width="2" height="30"/>
<rect x="281" y="637" width="2" height="20"/>
<rect x="283" y="634" width="2" height="23"/>
<rect x="286" y="632" width="2" height="25"/>
<rect x="289" y="638" width="2" height="19"/>
<rect x="292" y="642" width="2" height="15"/>
<rect x="295" y="643" width="2" height="14"/>
<rect x="297" y="641" width="2" height="16"/>
<rect x="300" y="623" width="2" height="34"/>
<rect x="303" y="642" width="2" height="15"/>
<rect x="306" y="639" width="2" height="18"/>
<rect x="309" y="642" width="2" height="15"/>
<rect x="312" y="640" width="2" height="17"/>
<rect x="314" y="642" width="2" height="15"/>
<rect x="317" y="638" width="2" height="19"/>
<rect x="320" y="635" width="2" height="22"/>
<rect x="323" y="642" width="2" height="15"/>
<rect x="326" y="643" width="2" height="14"/>
<rect x="328" y="643" width="2" height="14"/>
<rect x="331" y="643" width="2" height="14"/>
<rect x="334" y="640" width="2" height="17"/>
<rect x="337" y="635" width="2" height="22"/>
<rect x="340" y="628" width="2" height="29"/>
<rect x="343" y="638" width="2" height="19"/>
<rect x="345" y="631" width="2" height="26"/>
<rect x="348" y="634" width="2" height="23"/>
<rect x="351" y="623" width="2" height="34"/>
<rect x="354" y="633" width="2" height="24"/>
<rect x="357" y="627" width="2" height="30"/>
<rect x="359" y="628" width="2" height="29"/>
<rect x="362" y="622" width="2" height="35"/>
<rect x="365" y="623" width="2" height="34"/>
<rect x="368" y="616" width="2" height="41"/>
<rect x="371" y="619" width="2" height="38"/>
<rect x="373" y="624" width="2" height="33"/>
<rect x="376" y="625" width="2" height="32"/>
<rect x="379" y="624" width="2" height="33"/>
<rect x="382" y="627" width="2" height="30"/>
<rect x="385" y="622" width="2" height="35"/>
<rect x="388" y="614" width="2" height="43"/>
<rect x="390" y="589" width="2" height="68"/>
<rect x="393" y="619" width="2" height="38"/>
<rect x="396" y="615" width="2" height="42"/>
<rect x="399" y="617" width="2" height="40"/>
<rect x="402" y="620" width="2" height="37"/>
<rect x="404" y="602" width="2" height="55"/>
<rect x="407" y="629" width="2" height="28"/>
<rect x="410" y="629" width="2" height="28"/>
<rect x="413" y="610" width="2" height="47"/>
<rect x="416" y="622" width="2" height="35"/>
<rect x="419" y="627" width="2" height="30"/>
<rect x="421" y="608" width="2" height="49"/>
<rect x="424" y="617" width="2" height="40"/>
<rect x="427" y="614" width="2" height="43"/>
<rect x="430" y="624" width="2" height="33"/>
<rect x="433" y="620" width="2" height="37"/>
<rect x="435" y="610" width="2" height="47"/>
<rect x="438" y="625" width="2" height="32"/>
<rect x="441" y="613" width="2" height="44"/>
<rect x="444" y="632" width="2" height="25"/>
<rect x="447" y="633" width="2" height="24"/>
<rect x="450" y="629" width="2" height="28"/>
<rect x="452" y="635" width="2" height="22"/>
<rect x="455" y="626" width="2" height="31"/>
<rect x="458" y="632" width="2" height="25"/>
<rect x="461" y="633" width="2" height="24"/>
<rect x="464" y="620" width="2" height="37"/>
<rect x="466" y="620" width="2" height="37"/>
<rect x="469" y="637" width="2" height="20"/>
<rect x="472" y="640" width="2" height="17"/>
<rect x="475" y="631" width="2" height="26"/>
<rect x="478" y="638" width="2" height="19"/>
<rect x="480" y="635" width="2" height="22"/>
<rect x="483" y="635" width="2" height="22"/>
<rect x="486" y="640" width="2" height="17"/>
<rect x="489" y="642" width="2" height="15"/>
<rect x="492" y="642" width="2" height="15"/>
<rect x="495" y="634" width="2" height="23"/>
<rect x="497" y="645" width="2" height="12"/>
<rect x="500" y="637" width="2" height="20"/>
<rect x="503" y="638" width="2" height="19"/>
<rect x="506" y="635" width="2" height="22"/>
<rect x="509" y="642" width="2" height="15"/>
<rect x="511" y="634" width="2" height="23"/>
<rect x="514" y="643" width="2" height="14"/>
<rect x="517" y="641" width="2" height="16"/>
<rect x="520" y="638" width="2" height="19"/>
<rect x="523" y="638" width="2" height="19"/>
<rect x="526" y="640" width="2" height="17"/>
<rect x="528" y="636" width="2" height="21"/>
<rect x="531" y="641" width="2" height="16"/>
<rect x="534" y="637" width="2" height="20"/>
<rect x="537" y="629" width="2" height="28"/>
<rect x="540" y="627" width="2" height="30"/>
<rect x="542" y="637" width="2" height="20"/>
<rect x="545" y="635" width="2" height="22"/>
<rect x="548" y="635" width="2" height="22"/>
<rect x="551" y="621" width="2" height="36"/>
<rect x="554" y="627" width="2" height="30"/>
<rect x="556" y="634" width="2" height="23"/>
<rect x="559" y="639" width="2" height="18"/>
<rect x="562" y="634" width="2" height="23"/>
<rect x="565" y="637" width="2" height="20"/>
<rect x="568" y="635" width="2" height="22"/>
<rect x="571" y="642" width="2" height="15"/>
<rect x="573" y="640" width="2" height="17"/>
<rect x="576" y="639" width="2" height="18"/>
<rect x="579" y="630" width="2" height="27"/>
<rect x="582" y="633" width="2" height="24"/>
<rect x="585" y="639" width="2" height="18"/>
<rect x="587" y="640" width="2" height="17"/>
<rect x="590" y="640" width="2" height="17"/>
</g>
<polyline shape-rendering="crispEdges" points="0.0,647.8 4.9,646.8 34.6,646.8 35.9,648.0 58.1,648.0 59.3,647.3 79.1,646.8 81.6,645.6 86.5,645.3 89.0,644.3 98.9,644.1 101.4,643.3 113.7,643.1 116.2,642.3 143.4,642.3 144.7,643.8 157.4,643.8 159.9,644.8 167.3,644.8 169.8,643.3 174.7,643.1 177.2,642.3 182.1,642.3 184.6,641.4 188.3,641.6 190.8,640.6 201.9,640.6 204.4,639.9 221.7,639.9 224.2,641.6 234.1,641.6 236.5,642.6 263.7,642.6 266.2,641.6 273.6,641.4 276.1,639.9 281.1,639.4 284.8,638.1 298.4,637.9 302.1,636.9 322.3,636.7 324.7,637.9 332.1,637.9 334.6,638.9 344.5,638.9 347.0,637.4 356.9,636.9 360.6,635.4 364.3,634.4 368.0,633.2 371.7,632.0 375.4,630.5 381.6,630.0 385.3,628.3 389.0,627.0 392.7,623.8 398.9,622.6 403.9,620.6 413.7,620.1 418.7,619.3 422.4,618.4 433.5,618.1 436.0,616.9 444.7,616.9 447.4,620.1 452.4,620.8 457.3,621.8 464.7,622.6 469.7,624.5 474.6,625.0 479.6,627.0 484.5,628.3 489.5,630.0 493.2,631.7 496.9,633.7 504.3,634.2 509.2,634.9 516.7,636.7 524.1,637.4 529.0,638.6 536.4,638.6 538.9,637.9 546.3,637.9 551.3,636.7 558.7,636.2 563.6,634.9 591.3,634.9" fill="none" stroke="#ff0000" stroke-width="2" stroke-linejoin="round"/>
</svg></body></html>
